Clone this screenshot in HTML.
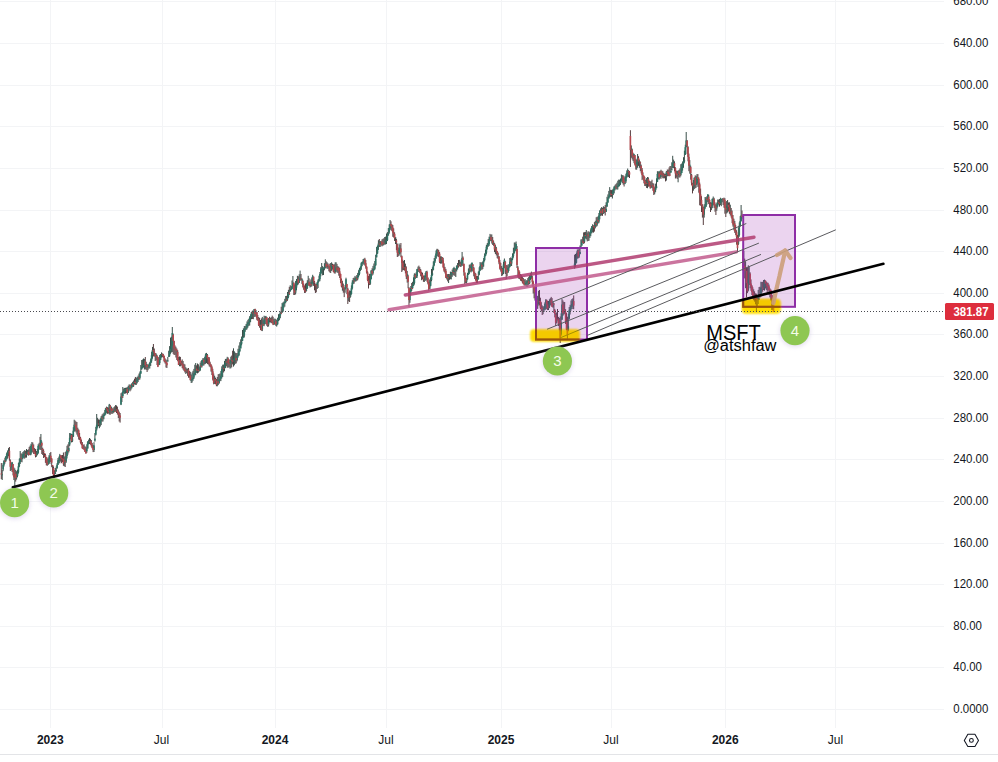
<!DOCTYPE html>
<html><head><meta charset="utf-8"><title>MSFT</title>
<style>html,body{margin:0;padding:0;background:#fff;width:998px;height:762px;overflow:hidden;font-family:"Liberation Sans",sans-serif;}</style>
</head><body>
<svg width="998" height="762" viewBox="0 0 998 762" style="position:absolute;left:0;top:0"><defs><filter id="blur1" x="-20%" y="-50%" width="140%" height="200%"><feGaussianBlur stdDeviation="1.3"/></filter><filter id="blur06" x="-50%" y="-50%" width="200%" height="200%"><feGaussianBlur stdDeviation="0.6"/></filter><filter id="shadow" x="-50%" y="-50%" width="200%" height="200%"><feGaussianBlur stdDeviation="2"/></filter><clipPath id="pane"><rect x="0" y="0" width="944" height="728"/></clipPath></defs><g fill="#f3f4f6" shape-rendering="crispEdges"><rect x="0" y="709" width="944" height="1"/><rect x="0" y="667" width="944" height="1"/><rect x="0" y="626" width="944" height="1"/><rect x="0" y="584" width="944" height="1"/><rect x="0" y="543" width="944" height="1"/><rect x="0" y="501" width="944" height="1"/><rect x="0" y="459" width="944" height="1"/><rect x="0" y="418" width="944" height="1"/><rect x="0" y="376" width="944" height="1"/><rect x="0" y="334" width="944" height="1"/><rect x="0" y="293" width="944" height="1"/><rect x="0" y="251" width="944" height="1"/><rect x="0" y="210" width="944" height="1"/><rect x="0" y="168" width="944" height="1"/><rect x="0" y="126" width="944" height="1"/><rect x="0" y="85" width="944" height="1"/><rect x="0" y="43" width="944" height="1"/><rect x="0" y="1" width="944" height="1"/><rect x="50" y="0" width="1" height="728"/><rect x="162" y="0" width="1" height="728"/><rect x="275" y="0" width="1" height="728"/><rect x="386" y="0" width="1" height="728"/><rect x="501" y="0" width="1" height="728"/><rect x="611" y="0" width="1" height="728"/><rect x="725" y="0" width="1" height="728"/><rect x="835" y="0" width="1" height="728"/></g><g clip-path="url(#pane)"><g fill="#3a4f4a"><rect x="1.70" y="470.0" width="1" height="10.0"/><rect x="2.60" y="463.0" width="1" height="8.2"/><rect x="3.50" y="460.5" width="1" height="6.0"/><rect x="5.30" y="456.0" width="1" height="6.0"/><rect x="6.20" y="452.6" width="1" height="7.0"/><rect x="7.10" y="450.4" width="1" height="8.3"/><rect x="8.00" y="448.1" width="1" height="8.2"/><rect x="10.70" y="462.6" width="1" height="7.7"/><rect x="11.60" y="461.9" width="1" height="10.1"/><rect x="14.30" y="468.4" width="1" height="18.6"/><rect x="16.10" y="471.2" width="1" height="8.4"/><rect x="17.00" y="469.7" width="1" height="7.3"/><rect x="17.90" y="462.9" width="1" height="10.7"/><rect x="18.80" y="458.7" width="1" height="8.5"/><rect x="19.70" y="451.0" width="1" height="13.0"/><rect x="21.50" y="453.6" width="1" height="8.7"/><rect x="22.40" y="452.0" width="1" height="7.1"/><rect x="23.30" y="451.1" width="1" height="6.5"/><rect x="24.20" y="450.1" width="1" height="8.6"/><rect x="26.00" y="449.0" width="1" height="8.6"/><rect x="26.90" y="450.0" width="1" height="4.8"/><rect x="29.60" y="445.6" width="1" height="9.7"/><rect x="30.50" y="443.8" width="1" height="11.3"/><rect x="31.40" y="442.0" width="1" height="10.0"/><rect x="35.90" y="451.0" width="1" height="5.8"/><rect x="36.80" y="448.9" width="1" height="6.3"/><rect x="37.70" y="444.2" width="1" height="9.6"/><rect x="38.60" y="442.8" width="1" height="6.7"/><rect x="40.40" y="434.0" width="1" height="16.0"/><rect x="47.60" y="457.3" width="1" height="7.6"/><rect x="48.50" y="455.2" width="1" height="8.0"/><rect x="49.40" y="453.0" width="1" height="11.0"/><rect x="54.80" y="468.0" width="1" height="6.2"/><rect x="55.70" y="466.5" width="1" height="5.3"/><rect x="56.60" y="463.1" width="1" height="5.3"/><rect x="57.50" y="458.0" width="1" height="6.9"/><rect x="58.40" y="456.6" width="1" height="6.3"/><rect x="59.30" y="453.9" width="1" height="9.5"/><rect x="63.80" y="456.4" width="1" height="9.9"/><rect x="65.60" y="451.2" width="1" height="11.7"/><rect x="66.50" y="445.8" width="1" height="12.7"/><rect x="68.30" y="442.1" width="1" height="10.4"/><rect x="69.20" y="433.0" width="1" height="13.1"/><rect x="70.10" y="433.5" width="1" height="5.9"/><rect x="71.90" y="434.2" width="1" height="7.9"/><rect x="72.80" y="427.2" width="1" height="9.9"/><rect x="73.70" y="419.7" width="1" height="12.1"/><rect x="77.30" y="427.7" width="1" height="8.9"/><rect x="86.30" y="444.3" width="1" height="8.5"/><rect x="87.20" y="441.1" width="1" height="7.5"/><rect x="88.10" y="439.6" width="1" height="4.8"/><rect x="89.00" y="438.0" width="1" height="6.0"/><rect x="93.50" y="442.2" width="1" height="9.8"/><rect x="94.40" y="433.0" width="1" height="8.7"/><rect x="95.30" y="426.8" width="1" height="8.7"/><rect x="96.20" y="414.0" width="1" height="16.6"/><rect x="97.10" y="417.8" width="1" height="9.9"/><rect x="98.90" y="419.7" width="1" height="8.5"/><rect x="99.80" y="418.5" width="1" height="8.1"/><rect x="100.70" y="416.0" width="1" height="9.1"/><rect x="102.50" y="413.6" width="1" height="7.9"/><rect x="103.40" y="412.6" width="1" height="6.7"/><rect x="104.30" y="409.9" width="1" height="6.1"/><rect x="105.20" y="407.9" width="1" height="6.7"/><rect x="108.80" y="403.9" width="1" height="10.6"/><rect x="110.60" y="406.4" width="1" height="7.2"/><rect x="112.40" y="409.1" width="1" height="4.4"/><rect x="113.30" y="407.3" width="1" height="5.6"/><rect x="115.10" y="405.0" width="1" height="6.5"/><rect x="120.50" y="393.2" width="1" height="11.9"/><rect x="122.30" y="387.0" width="1" height="11.0"/><rect x="123.20" y="388.5" width="1" height="4.8"/><rect x="124.10" y="387.9" width="1" height="5.9"/><rect x="125.00" y="387.8" width="1" height="5.7"/><rect x="125.90" y="387.6" width="1" height="5.4"/><rect x="127.70" y="385.7" width="1" height="7.3"/><rect x="128.60" y="384.4" width="1" height="6.1"/><rect x="130.40" y="384.6" width="1" height="5.7"/><rect x="131.30" y="383.1" width="1" height="5.4"/><rect x="133.10" y="380.5" width="1" height="6.4"/><rect x="135.80" y="377.7" width="1" height="7.2"/><rect x="136.70" y="376.9" width="1" height="6.5"/><rect x="137.60" y="375.6" width="1" height="6.4"/><rect x="139.40" y="371.5" width="1" height="8.0"/><rect x="140.30" y="365.0" width="1" height="9.0"/><rect x="141.20" y="360.0" width="1" height="9.8"/><rect x="142.10" y="359.5" width="1" height="8.6"/><rect x="143.00" y="358.5" width="1" height="9.0"/><rect x="143.90" y="358.9" width="1" height="10.6"/><rect x="145.70" y="361.8" width="1" height="8.1"/><rect x="147.50" y="365.0" width="1" height="5.2"/><rect x="148.40" y="363.7" width="1" height="4.9"/><rect x="149.30" y="361.9" width="1" height="6.6"/><rect x="150.20" y="358.5" width="1" height="7.5"/><rect x="151.10" y="351.7" width="1" height="10.9"/><rect x="152.00" y="346.9" width="1" height="11.8"/><rect x="155.60" y="353.3" width="1" height="7.0"/><rect x="158.30" y="357.2" width="1" height="8.0"/><rect x="159.20" y="354.9" width="1" height="10.0"/><rect x="160.10" y="354.0" width="1" height="6.1"/><rect x="161.00" y="352.4" width="1" height="5.2"/><rect x="167.30" y="357.0" width="1" height="4.3"/><rect x="168.20" y="350.7" width="1" height="6.0"/><rect x="169.10" y="346.1" width="1" height="10.7"/><rect x="170.00" y="337.6" width="1" height="16.2"/><rect x="170.90" y="336.7" width="1" height="15.8"/><rect x="171.80" y="327.0" width="1" height="25.0"/><rect x="179.00" y="356.5" width="1" height="9.7"/><rect x="185.30" y="367.2" width="1" height="6.8"/><rect x="187.10" y="368.6" width="1" height="7.2"/><rect x="190.70" y="374.4" width="1" height="8.6"/><rect x="191.60" y="372.4" width="1" height="10.2"/><rect x="192.50" y="370.8" width="1" height="10.0"/><rect x="193.40" y="368.9" width="1" height="10.0"/><rect x="194.30" y="364.7" width="1" height="10.7"/><rect x="195.20" y="363.0" width="1" height="12.2"/><rect x="197.00" y="363.5" width="1" height="9.9"/><rect x="198.80" y="367.1" width="1" height="3.9"/><rect x="199.70" y="362.6" width="1" height="8.3"/><rect x="201.50" y="359.9" width="1" height="7.5"/><rect x="202.40" y="358.1" width="1" height="7.1"/><rect x="204.20" y="356.7" width="1" height="7.7"/><rect x="205.10" y="353.4" width="1" height="10.4"/><rect x="206.00" y="352.9" width="1" height="10.1"/><rect x="214.10" y="375.7" width="1" height="8.2"/><rect x="216.80" y="377.0" width="1" height="9.3"/><rect x="218.60" y="374.0" width="1" height="9.7"/><rect x="219.50" y="373.4" width="1" height="7.7"/><rect x="220.40" y="370.9" width="1" height="10.2"/><rect x="221.30" y="366.3" width="1" height="12.1"/><rect x="222.20" y="364.7" width="1" height="12.3"/><rect x="224.00" y="360.9" width="1" height="10.3"/><rect x="224.90" y="358.9" width="1" height="9.1"/><rect x="226.70" y="356.8" width="1" height="10.8"/><rect x="229.40" y="359.6" width="1" height="8.9"/><rect x="230.30" y="356.7" width="1" height="11.6"/><rect x="233.00" y="348.3" width="1" height="18.3"/><rect x="233.90" y="351.3" width="1" height="14.0"/><rect x="234.80" y="352.7" width="1" height="11.1"/><rect x="236.60" y="353.0" width="1" height="8.3"/><rect x="237.50" y="348.8" width="1" height="8.9"/><rect x="238.40" y="345.5" width="1" height="10.6"/><rect x="239.30" y="342.2" width="1" height="9.9"/><rect x="240.20" y="339.3" width="1" height="9.1"/><rect x="241.10" y="336.5" width="1" height="8.8"/><rect x="242.00" y="330.0" width="1" height="11.1"/><rect x="242.90" y="328.3" width="1" height="9.0"/><rect x="243.80" y="326.0" width="1" height="11.4"/><rect x="244.70" y="325.9" width="1" height="5.9"/><rect x="245.60" y="323.9" width="1" height="6.1"/><rect x="246.50" y="321.4" width="1" height="8.0"/><rect x="247.40" y="319.8" width="1" height="7.8"/><rect x="248.30" y="318.8" width="1" height="7.2"/><rect x="249.20" y="316.1" width="1" height="9.4"/><rect x="250.10" y="314.2" width="1" height="7.9"/><rect x="251.00" y="311.8" width="1" height="7.4"/><rect x="252.80" y="310.7" width="1" height="8.5"/><rect x="253.70" y="309.0" width="1" height="8.0"/><rect x="255.50" y="309.9" width="1" height="7.0"/><rect x="260.00" y="320.0" width="1" height="10.0"/><rect x="261.80" y="316.9" width="1" height="14.2"/><rect x="263.60" y="315.7" width="1" height="10.5"/><rect x="265.40" y="315.9" width="1" height="8.3"/><rect x="268.10" y="318.0" width="1" height="8.5"/><rect x="270.80" y="317.2" width="1" height="6.0"/><rect x="273.50" y="318.8" width="1" height="5.8"/><rect x="274.40" y="318.5" width="1" height="6.0"/><rect x="276.20" y="320.0" width="1" height="6.6"/><rect x="277.10" y="317.7" width="1" height="7.0"/><rect x="278.00" y="314.2" width="1" height="6.9"/><rect x="278.90" y="313.8" width="1" height="6.5"/><rect x="279.80" y="311.6" width="1" height="6.6"/><rect x="281.60" y="303.0" width="1" height="9.7"/><rect x="282.50" y="302.3" width="1" height="9.7"/><rect x="283.40" y="301.5" width="1" height="6.1"/><rect x="284.30" y="298.8" width="1" height="7.9"/><rect x="285.20" y="296.0" width="1" height="7.3"/><rect x="287.00" y="292.0" width="1" height="8.8"/><rect x="287.90" y="289.8" width="1" height="8.3"/><rect x="289.70" y="285.2" width="1" height="6.4"/><rect x="290.60" y="286.0" width="1" height="4.1"/><rect x="291.50" y="280.5" width="1" height="8.8"/><rect x="292.40" y="276.0" width="1" height="11.6"/><rect x="295.10" y="280.9" width="1" height="13.5"/><rect x="296.00" y="279.0" width="1" height="11.3"/><rect x="296.90" y="275.8" width="1" height="9.5"/><rect x="298.70" y="274.3" width="1" height="8.7"/><rect x="299.60" y="270.6" width="1" height="10.2"/><rect x="301.40" y="278.3" width="1" height="5.6"/><rect x="305.90" y="282.8" width="1" height="8.6"/><rect x="306.80" y="280.2" width="1" height="8.8"/><rect x="307.70" y="275.8" width="1" height="9.6"/><rect x="309.50" y="281.6" width="1" height="5.9"/><rect x="311.30" y="277.4" width="1" height="9.0"/><rect x="312.20" y="274.8" width="1" height="8.9"/><rect x="316.70" y="282.0" width="1" height="7.0"/><rect x="317.60" y="279.3" width="1" height="8.7"/><rect x="318.50" y="275.7" width="1" height="6.0"/><rect x="319.40" y="272.0" width="1" height="9.2"/><rect x="320.30" y="267.1" width="1" height="9.2"/><rect x="321.20" y="263.0" width="1" height="10.0"/><rect x="322.10" y="266.1" width="1" height="9.2"/><rect x="323.00" y="267.3" width="1" height="7.7"/><rect x="323.90" y="263.2" width="1" height="7.1"/><rect x="324.80" y="259.3" width="1" height="9.2"/><rect x="326.60" y="262.3" width="1" height="6.6"/><rect x="330.20" y="263.0" width="1" height="10.0"/><rect x="331.10" y="262.3" width="1" height="8.6"/><rect x="334.70" y="262.3" width="1" height="11.3"/><rect x="335.60" y="262.3" width="1" height="9.4"/><rect x="337.40" y="266.0" width="1" height="6.9"/><rect x="341.90" y="281.0" width="1" height="9.7"/><rect x="344.60" y="285.0" width="1" height="7.7"/><rect x="345.50" y="277.7" width="1" height="10.8"/><rect x="348.20" y="292.3" width="1" height="9.0"/><rect x="350.00" y="290.8" width="1" height="6.8"/><rect x="350.90" y="285.4" width="1" height="9.3"/><rect x="351.80" y="280.3" width="1" height="9.2"/><rect x="352.70" y="278.0" width="1" height="6.1"/><rect x="354.50" y="275.9" width="1" height="5.5"/><rect x="355.40" y="276.7" width="1" height="4.8"/><rect x="357.20" y="272.9" width="1" height="7.3"/><rect x="358.10" y="270.2" width="1" height="7.0"/><rect x="359.00" y="268.0" width="1" height="7.0"/><rect x="359.90" y="266.3" width="1" height="4.7"/><rect x="360.80" y="262.3" width="1" height="7.5"/><rect x="361.70" y="261.6" width="1" height="4.5"/><rect x="362.60" y="259.0" width="1" height="5.3"/><rect x="363.50" y="258.6" width="1" height="6.2"/><rect x="369.80" y="274.0" width="1" height="10.8"/><rect x="370.70" y="270.2" width="1" height="9.2"/><rect x="372.50" y="265.9" width="1" height="8.8"/><rect x="373.40" y="263.5" width="1" height="7.4"/><rect x="374.30" y="261.0" width="1" height="8.9"/><rect x="375.20" y="254.9" width="1" height="11.1"/><rect x="376.10" y="247.0" width="1" height="10.5"/><rect x="377.00" y="245.5" width="1" height="8.3"/><rect x="377.90" y="240.2" width="1" height="9.7"/><rect x="379.70" y="241.1" width="1" height="5.9"/><rect x="382.40" y="238.8" width="1" height="7.0"/><rect x="384.20" y="237.0" width="1" height="7.6"/><rect x="385.10" y="236.6" width="1" height="7.9"/><rect x="386.00" y="233.5" width="1" height="10.5"/><rect x="386.90" y="232.1" width="1" height="8.9"/><rect x="387.80" y="228.0" width="1" height="7.6"/><rect x="388.70" y="224.4" width="1" height="9.3"/><rect x="389.60" y="220.0" width="1" height="9.7"/><rect x="395.00" y="237.2" width="1" height="6.8"/><rect x="398.60" y="243.5" width="1" height="12.2"/><rect x="399.50" y="244.9" width="1" height="8.8"/><rect x="404.00" y="260.0" width="1" height="10.5"/><rect x="406.70" y="270.9" width="1" height="11.7"/><rect x="409.40" y="289.4" width="1" height="13.4"/><rect x="410.30" y="286.0" width="1" height="8.6"/><rect x="412.10" y="281.8" width="1" height="7.3"/><rect x="413.00" y="277.3" width="1" height="8.7"/><rect x="413.90" y="273.3" width="1" height="11.3"/><rect x="415.70" y="272.2" width="1" height="5.8"/><rect x="416.60" y="268.9" width="1" height="9.0"/><rect x="417.50" y="266.6" width="1" height="5.4"/><rect x="423.80" y="275.5" width="1" height="6.5"/><rect x="424.70" y="273.0" width="1" height="7.9"/><rect x="425.60" y="271.0" width="1" height="9.2"/><rect x="429.20" y="279.4" width="1" height="9.5"/><rect x="430.10" y="277.3" width="1" height="9.2"/><rect x="431.00" y="269.0" width="1" height="12.4"/><rect x="431.90" y="267.2" width="1" height="8.6"/><rect x="432.80" y="261.4" width="1" height="9.0"/><rect x="433.70" y="258.0" width="1" height="8.2"/><rect x="434.60" y="255.6" width="1" height="7.2"/><rect x="435.50" y="250.5" width="1" height="8.4"/><rect x="436.40" y="248.8" width="1" height="7.3"/><rect x="440.00" y="256.3" width="1" height="7.3"/><rect x="440.90" y="256.4" width="1" height="7.2"/><rect x="446.30" y="274.1" width="1" height="5.4"/><rect x="448.10" y="274.0" width="1" height="9.0"/><rect x="449.90" y="271.6" width="1" height="7.6"/><rect x="450.80" y="272.0" width="1" height="7.4"/><rect x="451.70" y="269.5" width="1" height="7.3"/><rect x="453.50" y="266.8" width="1" height="8.7"/><rect x="455.30" y="268.3" width="1" height="8.7"/><rect x="456.20" y="265.3" width="1" height="6.2"/><rect x="457.10" y="263.0" width="1" height="6.5"/><rect x="458.90" y="259.9" width="1" height="6.3"/><rect x="460.70" y="259.5" width="1" height="7.2"/><rect x="461.60" y="252.0" width="1" height="13.7"/><rect x="466.10" y="278.0" width="1" height="5.4"/><rect x="467.00" y="272.8" width="1" height="6.9"/><rect x="467.90" y="268.7" width="1" height="6.2"/><rect x="468.80" y="264.7" width="1" height="9.2"/><rect x="470.60" y="263.5" width="1" height="8.9"/><rect x="471.50" y="262.6" width="1" height="8.7"/><rect x="476.90" y="276.0" width="1" height="7.0"/><rect x="477.80" y="271.6" width="1" height="7.9"/><rect x="478.70" y="267.3" width="1" height="8.0"/><rect x="479.60" y="262.0" width="1" height="9.1"/><rect x="480.50" y="262.8" width="1" height="6.5"/><rect x="482.30" y="261.4" width="1" height="7.6"/><rect x="483.20" y="258.0" width="1" height="8.6"/><rect x="484.10" y="253.5" width="1" height="7.7"/><rect x="485.00" y="249.6" width="1" height="6.7"/><rect x="485.90" y="244.8" width="1" height="9.6"/><rect x="486.80" y="243.0" width="1" height="6.5"/><rect x="487.70" y="239.0" width="1" height="7.8"/><rect x="488.60" y="236.7" width="1" height="9.2"/><rect x="489.50" y="233.9" width="1" height="7.4"/><rect x="491.30" y="234.4" width="1" height="9.2"/><rect x="493.10" y="240.6" width="1" height="5.3"/><rect x="494.90" y="244.7" width="1" height="9.3"/><rect x="502.10" y="267.8" width="1" height="7.6"/><rect x="503.00" y="261.8" width="1" height="12.3"/><rect x="503.90" y="258.5" width="1" height="9.5"/><rect x="507.50" y="264.5" width="1" height="8.1"/><rect x="508.40" y="264.1" width="1" height="6.9"/><rect x="509.30" y="258.0" width="1" height="9.3"/><rect x="511.10" y="258.2" width="1" height="7.8"/><rect x="512.00" y="253.4" width="1" height="6.8"/><rect x="512.90" y="247.7" width="1" height="10.0"/><rect x="513.80" y="242.5" width="1" height="11.2"/><rect x="514.70" y="242.5" width="1" height="8.8"/><rect x="515.60" y="241.5" width="1" height="9.5"/><rect x="524.60" y="279.0" width="1" height="6.5"/><rect x="525.50" y="280.6" width="1" height="5.8"/><rect x="526.40" y="280.0" width="1" height="7.0"/><rect x="527.30" y="278.1" width="1" height="8.9"/><rect x="529.10" y="275.0" width="1" height="9.1"/><rect x="530.00" y="273.3" width="1" height="6.6"/><rect x="530.90" y="271.6" width="1" height="7.2"/><rect x="537.20" y="295.9" width="1" height="12.9"/><rect x="538.10" y="290.8" width="1" height="13.8"/><rect x="542.60" y="306.6" width="1" height="7.6"/><rect x="543.50" y="306.0" width="1" height="6.0"/><rect x="544.40" y="302.3" width="1" height="7.9"/><rect x="545.30" y="299.1" width="1" height="10.6"/><rect x="548.00" y="301.0" width="1" height="9.0"/><rect x="548.90" y="299.3" width="1" height="8.7"/><rect x="549.80" y="298.2" width="1" height="7.1"/><rect x="552.50" y="301.4" width="1" height="6.4"/><rect x="556.10" y="312.4" width="1" height="11.0"/><rect x="558.80" y="318.0" width="1" height="12.3"/><rect x="560.60" y="313.3" width="1" height="22.4"/><rect x="561.50" y="299.0" width="1" height="21.0"/><rect x="563.30" y="301.9" width="1" height="12.9"/><rect x="567.80" y="313.8" width="1" height="17.4"/><rect x="568.70" y="307.0" width="1" height="12.5"/><rect x="569.60" y="304.8" width="1" height="9.7"/><rect x="570.50" y="300.5" width="1" height="10.2"/><rect x="571.40" y="299.0" width="1" height="8.0"/><rect x="572.30" y="298.3" width="1" height="10.8"/><rect x="574.10" y="254.7" width="1" height="13.9"/><rect x="575.00" y="254.0" width="1" height="12.9"/><rect x="575.90" y="252.7" width="1" height="10.6"/><rect x="576.80" y="249.5" width="1" height="9.2"/><rect x="578.60" y="247.1" width="1" height="10.8"/><rect x="579.50" y="245.5" width="1" height="8.7"/><rect x="580.40" y="239.4" width="1" height="9.0"/><rect x="581.30" y="239.2" width="1" height="6.5"/><rect x="584.00" y="232.2" width="1" height="11.0"/><rect x="585.80" y="230.0" width="1" height="9.4"/><rect x="586.70" y="232.4" width="1" height="9.0"/><rect x="588.50" y="231.9" width="1" height="8.9"/><rect x="589.40" y="231.6" width="1" height="6.4"/><rect x="590.30" y="228.4" width="1" height="7.8"/><rect x="591.20" y="226.0" width="1" height="7.4"/><rect x="592.10" y="224.3" width="1" height="8.1"/><rect x="594.80" y="220.8" width="1" height="7.6"/><rect x="596.60" y="216.8" width="1" height="9.4"/><rect x="598.40" y="213.0" width="1" height="10.2"/><rect x="599.30" y="210.3" width="1" height="9.0"/><rect x="601.10" y="207.1" width="1" height="8.4"/><rect x="602.90" y="206.3" width="1" height="7.6"/><rect x="605.60" y="202.3" width="1" height="9.7"/><rect x="606.50" y="196.8" width="1" height="10.1"/><rect x="607.40" y="194.4" width="1" height="8.4"/><rect x="608.30" y="190.9" width="1" height="7.8"/><rect x="609.20" y="187.1" width="1" height="10.2"/><rect x="611.90" y="189.5" width="1" height="9.0"/><rect x="612.80" y="188.5" width="1" height="6.6"/><rect x="613.70" y="186.1" width="1" height="7.3"/><rect x="614.60" y="184.8" width="1" height="5.5"/><rect x="616.40" y="182.7" width="1" height="6.9"/><rect x="617.30" y="180.7" width="1" height="8.8"/><rect x="618.20" y="179.6" width="1" height="7.1"/><rect x="619.10" y="179.7" width="1" height="6.5"/><rect x="620.00" y="178.5" width="1" height="6.4"/><rect x="620.90" y="174.5" width="1" height="7.2"/><rect x="621.80" y="175.1" width="1" height="8.1"/><rect x="624.50" y="175.8" width="1" height="7.5"/><rect x="625.40" y="173.7" width="1" height="9.3"/><rect x="626.30" y="170.4" width="1" height="7.5"/><rect x="627.20" y="168.5" width="1" height="8.1"/><rect x="630.80" y="145.4" width="1" height="12.4"/><rect x="633.50" y="153.8" width="1" height="9.3"/><rect x="636.20" y="159.5" width="1" height="10.2"/><rect x="637.10" y="154.0" width="1" height="13.8"/><rect x="638.90" y="159.5" width="1" height="8.3"/><rect x="645.20" y="179.7" width="1" height="6.4"/><rect x="647.00" y="177.0" width="1" height="11.2"/><rect x="650.60" y="181.2" width="1" height="6.5"/><rect x="654.20" y="187.3" width="1" height="7.0"/><rect x="655.10" y="183.6" width="1" height="8.5"/><rect x="656.00" y="178.3" width="1" height="10.0"/><rect x="656.90" y="171.2" width="1" height="10.9"/><rect x="657.80" y="171.3" width="1" height="8.0"/><rect x="659.60" y="170.7" width="1" height="7.7"/><rect x="661.40" y="170.7" width="1" height="6.2"/><rect x="664.10" y="173.7" width="1" height="4.6"/><rect x="665.90" y="171.0" width="1" height="9.6"/><rect x="670.40" y="166.0" width="1" height="6.8"/><rect x="671.30" y="162.3" width="1" height="7.7"/><rect x="672.20" y="155.8" width="1" height="12.4"/><rect x="673.10" y="159.6" width="1" height="8.5"/><rect x="677.60" y="170.5" width="1" height="11.8"/><rect x="680.30" y="164.2" width="1" height="12.1"/><rect x="681.20" y="163.5" width="1" height="9.7"/><rect x="682.10" y="161.5" width="1" height="9.1"/><rect x="683.00" y="157.2" width="1" height="10.6"/><rect x="683.90" y="150.7" width="1" height="12.1"/><rect x="684.80" y="144.7" width="1" height="10.2"/><rect x="685.70" y="132.0" width="1" height="15.2"/><rect x="689.30" y="160.1" width="1" height="13.6"/><rect x="692.90" y="180.0" width="1" height="10.7"/><rect x="693.80" y="177.3" width="1" height="11.8"/><rect x="695.60" y="175.8" width="1" height="11.9"/><rect x="696.50" y="174.1" width="1" height="10.5"/><rect x="703.70" y="204.2" width="1" height="13.4"/><rect x="704.60" y="197.0" width="1" height="12.2"/><rect x="705.50" y="197.2" width="1" height="9.8"/><rect x="707.30" y="194.2" width="1" height="7.9"/><rect x="710.90" y="202.5" width="1" height="7.6"/><rect x="711.80" y="198.4" width="1" height="9.8"/><rect x="712.70" y="196.5" width="1" height="8.8"/><rect x="716.30" y="202.6" width="1" height="8.2"/><rect x="717.20" y="199.5" width="1" height="7.4"/><rect x="719.90" y="197.7" width="1" height="7.4"/><rect x="720.80" y="199.0" width="1" height="7.2"/><rect x="721.70" y="198.4" width="1" height="3.9"/><rect x="726.20" y="201.0" width="1" height="12.5"/><rect x="727.10" y="200.0" width="1" height="12.5"/><rect x="729.80" y="204.7" width="1" height="10.8"/><rect x="733.40" y="218.7" width="1" height="11.6"/><rect x="737.90" y="227.4" width="1" height="17.5"/><rect x="738.80" y="222.4" width="1" height="14.3"/><rect x="739.70" y="216.1" width="1" height="10.6"/><rect x="740.60" y="205.0" width="1" height="16.6"/><rect x="743.30" y="251.0" width="1" height="20.0"/><rect x="745.10" y="261.2" width="1" height="27.0"/><rect x="747.80" y="265.3" width="1" height="26.1"/><rect x="748.70" y="267.0" width="1" height="18.0"/><rect x="757.70" y="289.9" width="1" height="14.1"/><rect x="758.60" y="287.0" width="1" height="13.0"/><rect x="760.40" y="281.7" width="1" height="15.1"/><rect x="761.30" y="282.0" width="1" height="11.6"/><rect x="763.10" y="280.0" width="1" height="10.0"/><rect x="764.00" y="279.6" width="1" height="11.0"/><rect x="765.80" y="281.5" width="1" height="8.5"/><rect x="769.40" y="288.2" width="1" height="9.2"/></g><g fill="#573e40"><rect x="0.80" y="463.0" width="1" height="16.1"/><rect x="4.40" y="457.7" width="1" height="6.0"/><rect x="8.90" y="447.0" width="1" height="13.8"/><rect x="9.80" y="459.4" width="1" height="11.6"/><rect x="12.50" y="463.9" width="1" height="11.5"/><rect x="13.40" y="467.5" width="1" height="12.5"/><rect x="15.20" y="470.0" width="1" height="11.6"/><rect x="20.60" y="453.4" width="1" height="8.5"/><rect x="25.10" y="450.8" width="1" height="6.9"/><rect x="27.80" y="449.3" width="1" height="6.4"/><rect x="28.70" y="446.9" width="1" height="7.9"/><rect x="32.30" y="442.5" width="1" height="10.1"/><rect x="33.20" y="444.4" width="1" height="9.6"/><rect x="34.10" y="448.1" width="1" height="5.7"/><rect x="35.00" y="449.1" width="1" height="8.3"/><rect x="39.50" y="436.9" width="1" height="12.9"/><rect x="41.30" y="441.5" width="1" height="12.5"/><rect x="42.20" y="447.7" width="1" height="7.3"/><rect x="43.10" y="449.4" width="1" height="8.6"/><rect x="44.00" y="452.8" width="1" height="4.4"/><rect x="44.90" y="453.8" width="1" height="9.0"/><rect x="45.80" y="456.9" width="1" height="8.4"/><rect x="46.70" y="458.5" width="1" height="7.4"/><rect x="50.30" y="452.0" width="1" height="10.0"/><rect x="51.20" y="458.1" width="1" height="9.1"/><rect x="52.10" y="465.0" width="1" height="9.0"/><rect x="53.00" y="466.4" width="1" height="10.5"/><rect x="53.90" y="470.2" width="1" height="7.4"/><rect x="60.20" y="455.2" width="1" height="6.4"/><rect x="61.10" y="455.2" width="1" height="8.0"/><rect x="62.00" y="455.0" width="1" height="7.0"/><rect x="62.90" y="452.5" width="1" height="13.3"/><rect x="64.70" y="452.0" width="1" height="15.0"/><rect x="67.40" y="444.4" width="1" height="10.2"/><rect x="71.00" y="433.9" width="1" height="8.5"/><rect x="74.60" y="420.6" width="1" height="10.6"/><rect x="75.50" y="421.6" width="1" height="10.8"/><rect x="76.40" y="422.0" width="1" height="12.6"/><rect x="78.20" y="429.4" width="1" height="10.2"/><rect x="79.10" y="433.0" width="1" height="7.0"/><rect x="80.00" y="436.9" width="1" height="6.7"/><rect x="80.90" y="439.5" width="1" height="5.7"/><rect x="81.80" y="442.0" width="1" height="6.8"/><rect x="82.70" y="444.8" width="1" height="4.1"/><rect x="83.60" y="444.3" width="1" height="5.9"/><rect x="84.50" y="446.2" width="1" height="5.7"/><rect x="85.40" y="447.0" width="1" height="6.8"/><rect x="89.90" y="438.8" width="1" height="5.9"/><rect x="90.80" y="440.0" width="1" height="6.6"/><rect x="91.70" y="442.9" width="1" height="5.5"/><rect x="92.60" y="445.1" width="1" height="7.0"/><rect x="98.00" y="419.4" width="1" height="6.8"/><rect x="101.60" y="414.5" width="1" height="7.1"/><rect x="106.10" y="406.6" width="1" height="6.3"/><rect x="107.00" y="407.2" width="1" height="6.6"/><rect x="107.90" y="407.5" width="1" height="6.1"/><rect x="109.70" y="404.9" width="1" height="9.9"/><rect x="111.50" y="407.7" width="1" height="6.3"/><rect x="114.20" y="406.3" width="1" height="5.7"/><rect x="116.00" y="405.5" width="1" height="7.5"/><rect x="116.90" y="406.6" width="1" height="8.0"/><rect x="117.80" y="409.5" width="1" height="8.5"/><rect x="118.70" y="411.6" width="1" height="9.9"/><rect x="119.60" y="413.0" width="1" height="9.6"/><rect x="121.40" y="392.4" width="1" height="9.6"/><rect x="126.80" y="387.1" width="1" height="7.5"/><rect x="129.50" y="384.6" width="1" height="6.8"/><rect x="132.20" y="381.9" width="1" height="4.9"/><rect x="134.00" y="378.7" width="1" height="5.6"/><rect x="134.90" y="377.0" width="1" height="7.8"/><rect x="138.50" y="373.6" width="1" height="6.5"/><rect x="144.80" y="357.0" width="1" height="12.3"/><rect x="146.60" y="363.9" width="1" height="8.1"/><rect x="152.90" y="344.0" width="1" height="12.4"/><rect x="153.80" y="348.5" width="1" height="8.1"/><rect x="154.70" y="353.0" width="1" height="8.0"/><rect x="156.50" y="354.8" width="1" height="10.2"/><rect x="157.40" y="356.8" width="1" height="10.3"/><rect x="161.90" y="353.4" width="1" height="3.7"/><rect x="162.80" y="353.8" width="1" height="4.1"/><rect x="163.70" y="355.6" width="1" height="6.6"/><rect x="164.60" y="358.3" width="1" height="5.3"/><rect x="165.50" y="359.4" width="1" height="8.1"/><rect x="166.40" y="360.2" width="1" height="7.8"/><rect x="172.70" y="333.6" width="1" height="20.3"/><rect x="173.60" y="340.7" width="1" height="14.3"/><rect x="174.50" y="345.4" width="1" height="9.5"/><rect x="175.40" y="346.7" width="1" height="10.8"/><rect x="176.30" y="348.4" width="1" height="11.6"/><rect x="177.20" y="350.2" width="1" height="11.1"/><rect x="178.10" y="357.0" width="1" height="8.0"/><rect x="179.90" y="356.9" width="1" height="9.4"/><rect x="180.80" y="360.8" width="1" height="4.8"/><rect x="181.70" y="359.4" width="1" height="8.8"/><rect x="182.60" y="361.0" width="1" height="8.6"/><rect x="183.50" y="363.8" width="1" height="7.1"/><rect x="184.40" y="364.4" width="1" height="8.1"/><rect x="186.20" y="368.4" width="1" height="4.7"/><rect x="188.00" y="368.0" width="1" height="9.7"/><rect x="188.90" y="371.0" width="1" height="6.7"/><rect x="189.80" y="371.8" width="1" height="8.8"/><rect x="196.10" y="365.3" width="1" height="7.6"/><rect x="197.90" y="364.3" width="1" height="8.4"/><rect x="200.60" y="361.0" width="1" height="6.6"/><rect x="203.30" y="358.2" width="1" height="7.5"/><rect x="206.90" y="354.0" width="1" height="10.0"/><rect x="207.80" y="357.1" width="1" height="7.5"/><rect x="208.70" y="357.1" width="1" height="9.3"/><rect x="209.60" y="361.7" width="1" height="5.5"/><rect x="210.50" y="364.1" width="1" height="7.5"/><rect x="211.40" y="365.7" width="1" height="9.4"/><rect x="212.30" y="368.8" width="1" height="11.7"/><rect x="213.20" y="373.5" width="1" height="10.8"/><rect x="215.00" y="377.6" width="1" height="6.5"/><rect x="215.90" y="378.9" width="1" height="7.3"/><rect x="217.70" y="374.2" width="1" height="10.9"/><rect x="223.10" y="364.7" width="1" height="7.8"/><rect x="225.80" y="359.1" width="1" height="7.1"/><rect x="227.60" y="357.4" width="1" height="10.4"/><rect x="228.50" y="359.3" width="1" height="7.7"/><rect x="231.20" y="355.6" width="1" height="11.7"/><rect x="232.10" y="350.7" width="1" height="13.7"/><rect x="235.70" y="353.1" width="1" height="10.3"/><rect x="251.90" y="310.6" width="1" height="8.4"/><rect x="254.60" y="308.7" width="1" height="7.8"/><rect x="256.40" y="312.0" width="1" height="8.2"/><rect x="257.30" y="315.0" width="1" height="5.9"/><rect x="258.20" y="317.0" width="1" height="9.0"/><rect x="259.10" y="317.9" width="1" height="9.8"/><rect x="260.90" y="318.4" width="1" height="12.3"/><rect x="262.70" y="320.2" width="1" height="5.6"/><rect x="264.50" y="316.2" width="1" height="7.9"/><rect x="266.30" y="317.1" width="1" height="8.7"/><rect x="267.20" y="319.0" width="1" height="7.9"/><rect x="269.00" y="316.7" width="1" height="5.7"/><rect x="269.90" y="317.8" width="1" height="4.7"/><rect x="271.70" y="315.6" width="1" height="7.6"/><rect x="272.60" y="316.8" width="1" height="8.3"/><rect x="275.30" y="319.0" width="1" height="6.8"/><rect x="280.70" y="306.7" width="1" height="7.5"/><rect x="286.10" y="295.8" width="1" height="5.7"/><rect x="288.80" y="286.8" width="1" height="8.1"/><rect x="293.30" y="282.5" width="1" height="12.5"/><rect x="294.20" y="284.4" width="1" height="10.6"/><rect x="297.80" y="276.2" width="1" height="8.3"/><rect x="300.50" y="274.0" width="1" height="6.5"/><rect x="302.30" y="279.8" width="1" height="7.6"/><rect x="303.20" y="283.5" width="1" height="6.3"/><rect x="304.10" y="285.7" width="1" height="7.3"/><rect x="305.00" y="283.6" width="1" height="9.1"/><rect x="308.60" y="278.3" width="1" height="7.6"/><rect x="310.40" y="279.4" width="1" height="7.6"/><rect x="313.10" y="276.7" width="1" height="9.2"/><rect x="314.00" y="281.0" width="1" height="9.3"/><rect x="314.90" y="283.5" width="1" height="9.5"/><rect x="315.80" y="284.0" width="1" height="8.3"/><rect x="325.70" y="261.3" width="1" height="6.5"/><rect x="327.50" y="263.4" width="1" height="5.3"/><rect x="328.40" y="265.9" width="1" height="5.4"/><rect x="329.30" y="263.7" width="1" height="8.7"/><rect x="332.00" y="263.7" width="1" height="5.8"/><rect x="332.90" y="264.4" width="1" height="7.8"/><rect x="333.80" y="264.2" width="1" height="9.2"/><rect x="336.50" y="263.9" width="1" height="8.6"/><rect x="338.30" y="266.8" width="1" height="8.9"/><rect x="339.20" y="268.0" width="1" height="10.0"/><rect x="340.10" y="273.6" width="1" height="9.6"/><rect x="341.00" y="278.5" width="1" height="8.9"/><rect x="342.80" y="283.6" width="1" height="9.1"/><rect x="343.70" y="287.6" width="1" height="9.5"/><rect x="346.40" y="283.9" width="1" height="10.3"/><rect x="347.30" y="287.7" width="1" height="16.3"/><rect x="349.10" y="290.4" width="1" height="11.6"/><rect x="353.60" y="277.5" width="1" height="6.2"/><rect x="356.30" y="275.0" width="1" height="5.9"/><rect x="364.40" y="257.8" width="1" height="7.9"/><rect x="365.30" y="260.0" width="1" height="8.7"/><rect x="366.20" y="266.2" width="1" height="7.4"/><rect x="367.10" y="271.3" width="1" height="9.8"/><rect x="368.00" y="276.0" width="1" height="12.5"/><rect x="368.90" y="273.8" width="1" height="11.3"/><rect x="371.60" y="268.2" width="1" height="7.5"/><rect x="378.80" y="239.0" width="1" height="8.0"/><rect x="380.60" y="241.2" width="1" height="4.3"/><rect x="381.50" y="239.4" width="1" height="7.0"/><rect x="383.30" y="238.3" width="1" height="6.9"/><rect x="390.50" y="221.3" width="1" height="9.0"/><rect x="391.40" y="224.2" width="1" height="7.0"/><rect x="392.30" y="225.0" width="1" height="11.8"/><rect x="393.20" y="228.4" width="1" height="9.1"/><rect x="394.10" y="232.3" width="1" height="8.7"/><rect x="395.90" y="238.7" width="1" height="11.5"/><rect x="396.80" y="243.5" width="1" height="13.5"/><rect x="397.70" y="247.5" width="1" height="8.9"/><rect x="400.40" y="243.0" width="1" height="14.3"/><rect x="401.30" y="255.5" width="1" height="16.5"/><rect x="402.20" y="259.7" width="1" height="10.8"/><rect x="403.10" y="260.9" width="1" height="9.1"/><rect x="404.90" y="263.6" width="1" height="9.8"/><rect x="405.80" y="266.4" width="1" height="12.6"/><rect x="407.60" y="274.7" width="1" height="13.6"/><rect x="408.50" y="287.1" width="1" height="19.9"/><rect x="411.20" y="283.0" width="1" height="8.0"/><rect x="414.80" y="273.6" width="1" height="5.3"/><rect x="418.40" y="265.6" width="1" height="6.5"/><rect x="419.30" y="267.1" width="1" height="6.0"/><rect x="420.20" y="269.0" width="1" height="7.3"/><rect x="421.10" y="272.0" width="1" height="8.2"/><rect x="422.00" y="272.7" width="1" height="6.6"/><rect x="422.90" y="275.6" width="1" height="6.2"/><rect x="426.50" y="270.7" width="1" height="11.0"/><rect x="427.40" y="277.5" width="1" height="6.9"/><rect x="428.30" y="281.8" width="1" height="8.8"/><rect x="437.30" y="248.9" width="1" height="7.6"/><rect x="438.20" y="250.0" width="1" height="7.1"/><rect x="439.10" y="252.1" width="1" height="11.0"/><rect x="441.80" y="257.0" width="1" height="6.3"/><rect x="442.70" y="257.8" width="1" height="10.3"/><rect x="443.60" y="263.4" width="1" height="8.4"/><rect x="444.50" y="266.9" width="1" height="6.5"/><rect x="445.40" y="268.9" width="1" height="9.2"/><rect x="447.20" y="274.1" width="1" height="7.3"/><rect x="449.00" y="274.3" width="1" height="5.5"/><rect x="452.60" y="268.0" width="1" height="7.1"/><rect x="454.40" y="268.4" width="1" height="7.5"/><rect x="458.00" y="260.0" width="1" height="7.6"/><rect x="459.80" y="261.6" width="1" height="5.3"/><rect x="462.50" y="256.5" width="1" height="9.5"/><rect x="463.40" y="263.6" width="1" height="12.1"/><rect x="464.30" y="272.4" width="1" height="11.6"/><rect x="465.20" y="276.4" width="1" height="6.6"/><rect x="469.70" y="264.4" width="1" height="7.3"/><rect x="472.40" y="264.1" width="1" height="7.4"/><rect x="473.30" y="266.9" width="1" height="9.4"/><rect x="474.20" y="271.6" width="1" height="7.4"/><rect x="475.10" y="273.2" width="1" height="7.5"/><rect x="476.00" y="276.0" width="1" height="7.0"/><rect x="481.40" y="262.1" width="1" height="8.0"/><rect x="490.40" y="234.6" width="1" height="6.4"/><rect x="492.20" y="237.0" width="1" height="8.0"/><rect x="494.00" y="243.1" width="1" height="9.0"/><rect x="495.80" y="247.0" width="1" height="8.4"/><rect x="496.70" y="250.9" width="1" height="7.3"/><rect x="497.60" y="252.5" width="1" height="6.5"/><rect x="498.50" y="256.0" width="1" height="8.2"/><rect x="499.40" y="259.9" width="1" height="9.7"/><rect x="500.30" y="263.0" width="1" height="8.6"/><rect x="501.20" y="266.0" width="1" height="10.0"/><rect x="504.80" y="261.2" width="1" height="12.8"/><rect x="505.70" y="265.0" width="1" height="14.0"/><rect x="506.60" y="265.3" width="1" height="10.9"/><rect x="510.20" y="257.4" width="1" height="8.5"/><rect x="516.50" y="246.0" width="1" height="22.0"/><rect x="517.40" y="266.1" width="1" height="10.7"/><rect x="518.30" y="270.2" width="1" height="8.6"/><rect x="519.20" y="271.6" width="1" height="7.6"/><rect x="520.10" y="274.0" width="1" height="6.8"/><rect x="521.00" y="275.1" width="1" height="6.2"/><rect x="521.90" y="276.4" width="1" height="6.8"/><rect x="522.80" y="278.0" width="1" height="6.2"/><rect x="523.70" y="279.4" width="1" height="6.2"/><rect x="528.20" y="276.8" width="1" height="8.1"/><rect x="531.80" y="275.8" width="1" height="10.4"/><rect x="532.70" y="280.6" width="1" height="12.9"/><rect x="533.60" y="285.9" width="1" height="12.4"/><rect x="534.50" y="287.4" width="1" height="13.2"/><rect x="535.40" y="290.8" width="1" height="14.1"/><rect x="536.30" y="295.8" width="1" height="13.2"/><rect x="539.00" y="290.0" width="1" height="15.4"/><rect x="539.90" y="297.7" width="1" height="11.5"/><rect x="540.80" y="302.2" width="1" height="9.0"/><rect x="541.70" y="305.4" width="1" height="9.6"/><rect x="546.20" y="299.6" width="1" height="9.3"/><rect x="547.10" y="300.9" width="1" height="9.2"/><rect x="550.70" y="296.9" width="1" height="8.8"/><rect x="551.60" y="298.1" width="1" height="8.9"/><rect x="553.40" y="303.0" width="1" height="10.0"/><rect x="554.30" y="308.9" width="1" height="8.5"/><rect x="555.20" y="313.1" width="1" height="12.9"/><rect x="557.00" y="309.0" width="1" height="11.5"/><rect x="557.90" y="316.9" width="1" height="9.1"/><rect x="559.70" y="316.4" width="1" height="26.6"/><rect x="562.40" y="300.4" width="1" height="15.6"/><rect x="564.20" y="302.0" width="1" height="11.8"/><rect x="565.10" y="309.2" width="1" height="14.8"/><rect x="566.00" y="313.0" width="1" height="17.2"/><rect x="566.90" y="316.7" width="1" height="23.3"/><rect x="573.20" y="295.4" width="1" height="13.8"/><rect x="577.70" y="249.4" width="1" height="9.0"/><rect x="582.20" y="236.7" width="1" height="6.2"/><rect x="583.10" y="232.4" width="1" height="11.5"/><rect x="584.90" y="231.9" width="1" height="6.7"/><rect x="587.60" y="231.1" width="1" height="9.9"/><rect x="593.00" y="225.3" width="1" height="7.3"/><rect x="593.90" y="222.1" width="1" height="9.5"/><rect x="595.70" y="217.3" width="1" height="9.4"/><rect x="597.50" y="216.5" width="1" height="7.0"/><rect x="600.20" y="208.3" width="1" height="7.7"/><rect x="602.00" y="207.8" width="1" height="8.0"/><rect x="603.80" y="206.9" width="1" height="6.3"/><rect x="604.70" y="205.0" width="1" height="10.5"/><rect x="610.10" y="189.8" width="1" height="7.1"/><rect x="611.00" y="190.1" width="1" height="6.7"/><rect x="615.50" y="183.9" width="1" height="5.1"/><rect x="622.70" y="175.3" width="1" height="9.4"/><rect x="623.60" y="177.3" width="1" height="9.2"/><rect x="628.10" y="170.1" width="1" height="7.0"/><rect x="629.00" y="171.1" width="1" height="6.9"/><rect x="629.90" y="130.2" width="1" height="36.8"/><rect x="631.70" y="148.7" width="1" height="10.8"/><rect x="632.60" y="152.7" width="1" height="8.4"/><rect x="634.40" y="155.1" width="1" height="10.4"/><rect x="635.30" y="159.2" width="1" height="10.4"/><rect x="638.00" y="156.2" width="1" height="9.7"/><rect x="639.80" y="161.5" width="1" height="9.7"/><rect x="640.70" y="164.6" width="1" height="8.8"/><rect x="641.60" y="168.0" width="1" height="12.1"/><rect x="642.50" y="172.4" width="1" height="6.8"/><rect x="643.40" y="175.6" width="1" height="7.7"/><rect x="644.30" y="177.0" width="1" height="9.0"/><rect x="646.10" y="178.1" width="1" height="9.8"/><rect x="647.90" y="177.4" width="1" height="9.3"/><rect x="648.80" y="180.6" width="1" height="5.6"/><rect x="649.70" y="181.4" width="1" height="7.3"/><rect x="651.50" y="179.7" width="1" height="8.5"/><rect x="652.40" y="183.0" width="1" height="7.8"/><rect x="653.30" y="183.6" width="1" height="11.4"/><rect x="658.70" y="171.6" width="1" height="8.0"/><rect x="660.50" y="169.7" width="1" height="9.1"/><rect x="662.30" y="171.2" width="1" height="7.1"/><rect x="663.20" y="172.8" width="1" height="5.5"/><rect x="665.00" y="173.7" width="1" height="7.7"/><rect x="666.80" y="169.5" width="1" height="6.8"/><rect x="667.70" y="169.5" width="1" height="6.5"/><rect x="668.60" y="167.4" width="1" height="8.9"/><rect x="669.50" y="166.0" width="1" height="9.0"/><rect x="674.00" y="161.3" width="1" height="10.0"/><rect x="674.90" y="167.2" width="1" height="11.3"/><rect x="675.80" y="170.6" width="1" height="7.1"/><rect x="676.70" y="170.9" width="1" height="8.1"/><rect x="678.50" y="169.8" width="1" height="7.5"/><rect x="679.40" y="168.4" width="1" height="9.2"/><rect x="686.60" y="140.0" width="1" height="14.0"/><rect x="687.50" y="146.2" width="1" height="15.1"/><rect x="688.40" y="153.6" width="1" height="17.6"/><rect x="690.20" y="165.8" width="1" height="13.9"/><rect x="691.10" y="173.9" width="1" height="11.4"/><rect x="692.00" y="182.7" width="1" height="10.7"/><rect x="694.70" y="175.4" width="1" height="12.8"/><rect x="697.40" y="174.1" width="1" height="12.8"/><rect x="698.30" y="177.5" width="1" height="15.2"/><rect x="699.20" y="182.6" width="1" height="22.7"/><rect x="700.10" y="188.6" width="1" height="17.1"/><rect x="701.00" y="196.2" width="1" height="15.8"/><rect x="701.90" y="204.2" width="1" height="13.4"/><rect x="702.80" y="206.7" width="1" height="18.3"/><rect x="706.40" y="196.2" width="1" height="8.5"/><rect x="708.20" y="194.8" width="1" height="9.3"/><rect x="709.10" y="199.3" width="1" height="8.3"/><rect x="710.00" y="202.2" width="1" height="9.8"/><rect x="713.60" y="197.8" width="1" height="10.1"/><rect x="714.50" y="202.4" width="1" height="9.3"/><rect x="715.40" y="204.2" width="1" height="10.8"/><rect x="718.10" y="199.6" width="1" height="4.9"/><rect x="719.00" y="199.0" width="1" height="7.7"/><rect x="722.60" y="198.4" width="1" height="6.6"/><rect x="723.50" y="197.6" width="1" height="10.1"/><rect x="724.40" y="198.2" width="1" height="15.5"/><rect x="725.30" y="202.0" width="1" height="15.0"/><rect x="728.00" y="202.5" width="1" height="8.6"/><rect x="728.90" y="202.3" width="1" height="11.5"/><rect x="730.70" y="208.0" width="1" height="9.5"/><rect x="731.60" y="210.5" width="1" height="12.6"/><rect x="732.50" y="215.0" width="1" height="11.6"/><rect x="734.30" y="220.9" width="1" height="12.0"/><rect x="735.20" y="225.0" width="1" height="10.2"/><rect x="736.10" y="230.2" width="1" height="14.5"/><rect x="737.00" y="234.9" width="1" height="17.1"/><rect x="741.50" y="210.5" width="1" height="8.3"/><rect x="742.40" y="250.0" width="1" height="21.0"/><rect x="744.20" y="258.6" width="1" height="19.8"/><rect x="746.00" y="267.5" width="1" height="29.8"/><rect x="746.90" y="267.5" width="1" height="25.6"/><rect x="749.60" y="272.3" width="1" height="16.0"/><rect x="750.50" y="279.4" width="1" height="11.4"/><rect x="751.40" y="285.0" width="1" height="10.0"/><rect x="752.30" y="287.3" width="1" height="11.5"/><rect x="753.20" y="289.3" width="1" height="11.0"/><rect x="754.10" y="291.3" width="1" height="10.4"/><rect x="755.00" y="293.4" width="1" height="10.9"/><rect x="755.90" y="293.7" width="1" height="17.6"/><rect x="756.80" y="295.1" width="1" height="12.5"/><rect x="759.50" y="286.7" width="1" height="10.9"/><rect x="762.20" y="281.8" width="1" height="9.9"/><rect x="764.90" y="280.5" width="1" height="8.0"/><rect x="766.70" y="282.5" width="1" height="9.7"/><rect x="767.60" y="282.8" width="1" height="7.5"/><rect x="768.50" y="284.5" width="1" height="10.5"/><rect x="770.30" y="289.5" width="1" height="11.0"/><rect x="771.20" y="292.0" width="1" height="18.0"/><rect x="772.10" y="295.3" width="1" height="14.6"/><rect x="773.00" y="300.0" width="1" height="12.0"/></g><g fill="#2c7465"><rect x="1.40" y="474.3" width="1.6" height="1.0"/><rect x="2.30" y="464.7" width="1.6" height="4.8"/><rect x="3.20" y="460.6" width="1.6" height="4.1"/><rect x="5.00" y="456.8" width="1.6" height="4.1"/><rect x="5.90" y="454.1" width="1.6" height="2.7"/><rect x="6.80" y="452.2" width="1.6" height="1.8"/><rect x="7.70" y="450.8" width="1.6" height="1.5"/><rect x="10.40" y="466.4" width="1.6" height="1.0"/><rect x="11.30" y="462.4" width="1.6" height="4.0"/><rect x="14.00" y="473.7" width="1.6" height="3.5"/><rect x="15.80" y="475.7" width="1.6" height="2.3"/><rect x="16.70" y="472.3" width="1.6" height="3.5"/><rect x="17.60" y="466.3" width="1.6" height="6.0"/><rect x="18.50" y="462.2" width="1.6" height="4.1"/><rect x="19.40" y="458.1" width="1.6" height="4.0"/><rect x="21.20" y="458.1" width="1.6" height="1.0"/><rect x="22.10" y="454.3" width="1.6" height="3.8"/><rect x="23.00" y="453.8" width="1.6" height="1.0"/><rect x="23.90" y="453.8" width="1.6" height="1.0"/><rect x="25.70" y="453.4" width="1.6" height="1.3"/><rect x="26.60" y="451.9" width="1.6" height="1.4"/><rect x="29.30" y="453.7" width="1.6" height="1.0"/><rect x="30.20" y="446.0" width="1.6" height="7.7"/><rect x="31.10" y="445.0" width="1.6" height="1.0"/><rect x="35.60" y="454.3" width="1.6" height="1.4"/><rect x="36.50" y="452.9" width="1.6" height="1.4"/><rect x="37.40" y="445.9" width="1.6" height="7.0"/><rect x="38.30" y="445.1" width="1.6" height="1.0"/><rect x="40.10" y="440.0" width="1.6" height="6.3"/><rect x="47.30" y="462.4" width="1.6" height="2.0"/><rect x="48.20" y="459.3" width="1.6" height="3.0"/><rect x="49.10" y="455.7" width="1.6" height="3.6"/><rect x="54.50" y="472.6" width="1.6" height="1.4"/><rect x="55.40" y="469.7" width="1.6" height="1.5"/><rect x="56.30" y="464.7" width="1.6" height="3.7"/><rect x="57.20" y="460.2" width="1.6" height="4.5"/><rect x="58.10" y="459.8" width="1.6" height="1.0"/><rect x="59.00" y="455.4" width="1.6" height="4.4"/><rect x="63.50" y="460.7" width="1.6" height="2.9"/><rect x="65.30" y="456.1" width="1.6" height="5.5"/><rect x="66.20" y="449.7" width="1.6" height="6.4"/><rect x="68.00" y="448.1" width="1.6" height="3.0"/><rect x="68.90" y="437.8" width="1.6" height="6.7"/><rect x="69.80" y="433.6" width="1.6" height="4.2"/><rect x="71.60" y="438.4" width="1.6" height="2.8"/><rect x="72.50" y="430.7" width="1.6" height="5.9"/><rect x="73.40" y="424.7" width="1.6" height="6.0"/><rect x="77.00" y="430.3" width="1.6" height="1.0"/><rect x="86.00" y="448.5" width="1.6" height="2.7"/><rect x="86.90" y="442.1" width="1.6" height="6.4"/><rect x="87.80" y="441.1" width="1.6" height="1.0"/><rect x="88.70" y="441.1" width="1.6" height="1.0"/><rect x="93.20" y="445.4" width="1.6" height="4.6"/><rect x="94.10" y="438.6" width="1.6" height="2.0"/><rect x="95.00" y="430.1" width="1.6" height="4.6"/><rect x="95.90" y="424.8" width="1.6" height="4.5"/><rect x="96.80" y="423.5" width="1.6" height="1.3"/><rect x="98.60" y="423.5" width="1.6" height="1.0"/><rect x="99.50" y="420.8" width="1.6" height="2.7"/><rect x="100.40" y="417.6" width="1.6" height="3.2"/><rect x="102.20" y="416.2" width="1.6" height="2.3"/><rect x="103.10" y="414.9" width="1.6" height="1.2"/><rect x="104.00" y="413.6" width="1.6" height="1.3"/><rect x="104.90" y="407.9" width="1.6" height="5.7"/><rect x="108.50" y="404.7" width="1.6" height="7.8"/><rect x="110.30" y="407.0" width="1.6" height="2.6"/><rect x="112.10" y="410.9" width="1.6" height="1.0"/><rect x="113.00" y="410.8" width="1.6" height="1.0"/><rect x="114.80" y="409.3" width="1.6" height="2.1"/><rect x="120.20" y="396.5" width="1.6" height="8.1"/><rect x="122.00" y="391.7" width="1.6" height="4.4"/><rect x="122.90" y="391.0" width="1.6" height="1.0"/><rect x="123.80" y="390.4" width="1.6" height="1.0"/><rect x="124.70" y="389.1" width="1.6" height="1.4"/><rect x="125.60" y="389.0" width="1.6" height="1.0"/><rect x="127.40" y="388.8" width="1.6" height="4.0"/><rect x="128.30" y="386.0" width="1.6" height="2.8"/><rect x="130.10" y="387.3" width="1.6" height="1.0"/><rect x="131.00" y="384.0" width="1.6" height="3.4"/><rect x="132.80" y="381.7" width="1.6" height="3.6"/><rect x="135.50" y="381.2" width="1.6" height="1.8"/><rect x="136.40" y="379.6" width="1.6" height="1.6"/><rect x="137.30" y="377.6" width="1.6" height="2.0"/><rect x="139.10" y="373.5" width="1.6" height="4.3"/><rect x="140.00" y="371.1" width="1.6" height="2.4"/><rect x="140.90" y="367.7" width="1.6" height="1.4"/><rect x="141.80" y="365.9" width="1.6" height="1.8"/><rect x="142.70" y="364.8" width="1.6" height="1.1"/><rect x="143.60" y="361.2" width="1.6" height="3.6"/><rect x="145.40" y="364.0" width="1.6" height="1.3"/><rect x="147.20" y="366.4" width="1.6" height="1.0"/><rect x="148.10" y="364.7" width="1.6" height="1.7"/><rect x="149.00" y="363.0" width="1.6" height="1.7"/><rect x="149.90" y="360.5" width="1.6" height="2.5"/><rect x="150.80" y="355.2" width="1.6" height="5.4"/><rect x="151.70" y="350.0" width="1.6" height="5.1"/><rect x="155.30" y="354.7" width="1.6" height="1.1"/><rect x="158.00" y="363.1" width="1.6" height="1.8"/><rect x="158.90" y="359.8" width="1.6" height="3.3"/><rect x="159.80" y="355.2" width="1.6" height="4.6"/><rect x="160.70" y="354.1" width="1.6" height="1.1"/><rect x="167.00" y="360.5" width="1.6" height="1.0"/><rect x="167.90" y="355.8" width="1.6" height="1.0"/><rect x="168.80" y="351.2" width="1.6" height="4.3"/><rect x="169.70" y="348.8" width="1.6" height="2.5"/><rect x="170.60" y="345.5" width="1.6" height="3.3"/><rect x="171.50" y="333.0" width="1.6" height="12.5"/><rect x="178.70" y="360.0" width="1.6" height="4.9"/><rect x="185.00" y="370.5" width="1.6" height="1.0"/><rect x="186.80" y="369.5" width="1.6" height="1.7"/><rect x="190.40" y="379.4" width="1.6" height="1.0"/><rect x="191.30" y="379.1" width="1.6" height="1.0"/><rect x="192.20" y="377.5" width="1.6" height="1.6"/><rect x="193.10" y="373.6" width="1.6" height="3.9"/><rect x="194.00" y="372.8" width="1.6" height="1.0"/><rect x="194.90" y="368.6" width="1.6" height="4.2"/><rect x="196.70" y="369.9" width="1.6" height="1.0"/><rect x="198.50" y="370.5" width="1.6" height="1.0"/><rect x="199.40" y="365.7" width="1.6" height="4.4"/><rect x="201.20" y="360.3" width="1.6" height="5.5"/><rect x="202.10" y="359.7" width="1.6" height="1.0"/><rect x="203.90" y="358.4" width="1.6" height="3.5"/><rect x="204.80" y="354.6" width="1.6" height="3.8"/><rect x="205.70" y="353.9" width="1.6" height="1.0"/><rect x="213.80" y="379.1" width="1.6" height="3.8"/><rect x="216.50" y="381.4" width="1.6" height="3.3"/><rect x="218.30" y="379.5" width="1.6" height="3.7"/><rect x="219.20" y="378.7" width="1.6" height="1.0"/><rect x="220.10" y="375.8" width="1.6" height="2.9"/><rect x="221.00" y="369.1" width="1.6" height="6.7"/><rect x="221.90" y="367.9" width="1.6" height="1.2"/><rect x="223.70" y="364.2" width="1.6" height="4.4"/><rect x="224.60" y="361.4" width="1.6" height="2.7"/><rect x="226.40" y="358.5" width="1.6" height="4.1"/><rect x="229.10" y="362.4" width="1.6" height="1.4"/><rect x="230.00" y="360.1" width="1.6" height="2.3"/><rect x="232.70" y="359.3" width="1.6" height="2.0"/><rect x="233.60" y="358.6" width="1.6" height="1.0"/><rect x="234.50" y="358.0" width="1.6" height="1.0"/><rect x="236.30" y="355.8" width="1.6" height="4.2"/><rect x="237.20" y="355.2" width="1.6" height="1.0"/><rect x="238.10" y="351.2" width="1.6" height="4.0"/><rect x="239.00" y="348.8" width="1.6" height="2.4"/><rect x="239.90" y="343.8" width="1.6" height="4.6"/><rect x="240.80" y="341.7" width="1.6" height="2.1"/><rect x="241.70" y="337.1" width="1.6" height="3.7"/><rect x="242.60" y="336.8" width="1.6" height="1.0"/><rect x="243.50" y="329.2" width="1.6" height="6.4"/><rect x="244.40" y="328.5" width="1.6" height="1.0"/><rect x="245.30" y="327.6" width="1.6" height="1.0"/><rect x="246.20" y="324.5" width="1.6" height="3.1"/><rect x="247.10" y="322.6" width="1.6" height="1.9"/><rect x="248.00" y="322.3" width="1.6" height="1.0"/><rect x="248.90" y="317.7" width="1.6" height="4.6"/><rect x="249.80" y="317.0" width="1.6" height="1.0"/><rect x="250.70" y="312.3" width="1.6" height="4.7"/><rect x="252.50" y="311.3" width="1.6" height="1.8"/><rect x="253.40" y="309.1" width="1.6" height="2.1"/><rect x="255.20" y="312.4" width="1.6" height="1.8"/><rect x="259.70" y="324.6" width="1.6" height="1.0"/><rect x="261.50" y="324.2" width="1.6" height="5.1"/><rect x="263.30" y="318.3" width="1.6" height="6.2"/><rect x="265.10" y="316.6" width="1.6" height="1.9"/><rect x="267.80" y="318.3" width="1.6" height="6.3"/><rect x="270.50" y="319.4" width="1.6" height="1.2"/><rect x="273.20" y="322.4" width="1.6" height="2.1"/><rect x="274.10" y="321.3" width="1.6" height="1.1"/><rect x="275.90" y="324.3" width="1.6" height="1.0"/><rect x="276.80" y="319.2" width="1.6" height="5.1"/><rect x="277.70" y="318.3" width="1.6" height="1.0"/><rect x="278.60" y="315.4" width="1.6" height="2.8"/><rect x="279.50" y="312.6" width="1.6" height="2.9"/><rect x="281.30" y="311.2" width="1.6" height="1.4"/><rect x="282.20" y="303.9" width="1.6" height="6.9"/><rect x="283.10" y="302.8" width="1.6" height="1.1"/><rect x="284.00" y="301.9" width="1.6" height="1.0"/><rect x="284.90" y="299.6" width="1.6" height="2.3"/><rect x="286.70" y="297.4" width="1.6" height="2.1"/><rect x="287.60" y="293.2" width="1.6" height="3.6"/><rect x="289.40" y="289.8" width="1.6" height="1.6"/><rect x="290.30" y="289.1" width="1.6" height="1.0"/><rect x="291.20" y="286.7" width="1.6" height="2.4"/><rect x="292.10" y="282.8" width="1.6" height="3.9"/><rect x="294.80" y="287.6" width="1.6" height="5.1"/><rect x="295.70" y="282.4" width="1.6" height="5.2"/><rect x="296.60" y="279.2" width="1.6" height="3.2"/><rect x="298.40" y="279.1" width="1.6" height="3.6"/><rect x="299.30" y="278.4" width="1.6" height="1.0"/><rect x="301.10" y="278.8" width="1.6" height="1.0"/><rect x="305.60" y="289.6" width="1.6" height="1.0"/><rect x="306.50" y="284.5" width="1.6" height="3.6"/><rect x="307.40" y="281.9" width="1.6" height="2.6"/><rect x="309.20" y="283.8" width="1.6" height="2.0"/><rect x="311.00" y="282.2" width="1.6" height="3.3"/><rect x="311.90" y="276.3" width="1.6" height="5.9"/><rect x="316.40" y="282.7" width="1.6" height="2.9"/><rect x="317.30" y="280.5" width="1.6" height="2.2"/><rect x="318.20" y="279.2" width="1.6" height="1.3"/><rect x="319.10" y="274.0" width="1.6" height="5.2"/><rect x="320.00" y="268.7" width="1.6" height="5.3"/><rect x="320.90" y="268.5" width="1.6" height="1.0"/><rect x="321.80" y="268.3" width="1.6" height="1.0"/><rect x="322.70" y="267.9" width="1.6" height="1.0"/><rect x="323.60" y="267.2" width="1.6" height="1.0"/><rect x="324.50" y="264.0" width="1.6" height="3.2"/><rect x="326.30" y="264.6" width="1.6" height="2.2"/><rect x="329.90" y="269.3" width="1.6" height="1.0"/><rect x="330.80" y="265.0" width="1.6" height="4.3"/><rect x="334.40" y="269.8" width="1.6" height="2.2"/><rect x="335.30" y="267.4" width="1.6" height="2.4"/><rect x="337.10" y="267.7" width="1.6" height="2.4"/><rect x="341.60" y="285.7" width="1.6" height="1.0"/><rect x="344.30" y="287.3" width="1.6" height="2.2"/><rect x="345.20" y="279.2" width="1.6" height="8.1"/><rect x="347.90" y="295.7" width="1.6" height="2.1"/><rect x="349.70" y="294.3" width="1.6" height="2.4"/><rect x="350.60" y="288.3" width="1.6" height="5.7"/><rect x="351.50" y="282.5" width="1.6" height="5.7"/><rect x="352.40" y="280.5" width="1.6" height="2.0"/><rect x="354.20" y="278.6" width="1.6" height="2.6"/><rect x="355.10" y="278.2" width="1.6" height="1.0"/><rect x="356.90" y="275.9" width="1.6" height="2.8"/><rect x="357.80" y="273.8" width="1.6" height="2.2"/><rect x="358.70" y="269.3" width="1.6" height="4.5"/><rect x="359.60" y="267.4" width="1.6" height="1.9"/><rect x="360.50" y="263.3" width="1.6" height="4.0"/><rect x="361.40" y="262.3" width="1.6" height="1.1"/><rect x="362.30" y="261.5" width="1.6" height="1.0"/><rect x="363.20" y="259.3" width="1.6" height="2.2"/><rect x="369.50" y="279.1" width="1.6" height="4.6"/><rect x="370.40" y="270.6" width="1.6" height="8.5"/><rect x="372.20" y="269.2" width="1.6" height="4.1"/><rect x="373.10" y="268.8" width="1.6" height="1.0"/><rect x="374.00" y="265.8" width="1.6" height="3.0"/><rect x="374.90" y="258.4" width="1.6" height="6.7"/><rect x="375.80" y="254.1" width="1.6" height="3.2"/><rect x="376.70" y="246.4" width="1.6" height="7.1"/><rect x="377.60" y="243.6" width="1.6" height="2.8"/><rect x="379.40" y="241.4" width="1.6" height="2.6"/><rect x="382.10" y="242.7" width="1.6" height="2.0"/><rect x="383.90" y="242.9" width="1.6" height="1.0"/><rect x="384.80" y="241.3" width="1.6" height="1.6"/><rect x="385.70" y="240.0" width="1.6" height="1.3"/><rect x="386.60" y="236.0" width="1.6" height="4.0"/><rect x="387.50" y="233.2" width="1.6" height="2.3"/><rect x="388.40" y="228.0" width="1.6" height="4.4"/><rect x="389.30" y="224.1" width="1.6" height="4.0"/><rect x="394.70" y="237.2" width="1.6" height="1.0"/><rect x="398.30" y="250.2" width="1.6" height="4.1"/><rect x="399.20" y="248.4" width="1.6" height="1.8"/><rect x="403.70" y="267.2" width="1.6" height="1.0"/><rect x="406.40" y="274.3" width="1.6" height="2.2"/><rect x="409.10" y="291.7" width="1.6" height="8.4"/><rect x="410.00" y="288.0" width="1.6" height="3.7"/><rect x="411.80" y="285.6" width="1.6" height="2.5"/><rect x="412.70" y="283.1" width="1.6" height="2.6"/><rect x="413.60" y="274.7" width="1.6" height="8.3"/><rect x="415.40" y="276.1" width="1.6" height="1.5"/><rect x="416.30" y="269.2" width="1.6" height="6.9"/><rect x="417.20" y="268.8" width="1.6" height="1.0"/><rect x="423.50" y="277.2" width="1.6" height="2.3"/><rect x="424.40" y="275.5" width="1.6" height="1.7"/><rect x="425.30" y="271.7" width="1.6" height="3.8"/><rect x="428.90" y="286.4" width="1.6" height="2.5"/><rect x="429.80" y="281.6" width="1.6" height="4.2"/><rect x="430.70" y="275.0" width="1.6" height="5.1"/><rect x="431.60" y="273.4" width="1.6" height="1.4"/><rect x="432.50" y="265.5" width="1.6" height="4.4"/><rect x="433.40" y="261.2" width="1.6" height="3.9"/><rect x="434.30" y="258.7" width="1.6" height="2.5"/><rect x="435.20" y="253.5" width="1.6" height="4.8"/><rect x="436.10" y="250.1" width="1.6" height="3.4"/><rect x="439.70" y="261.1" width="1.6" height="1.0"/><rect x="440.60" y="257.5" width="1.6" height="3.6"/><rect x="446.00" y="277.0" width="1.6" height="1.0"/><rect x="447.80" y="275.3" width="1.6" height="3.1"/><rect x="449.60" y="274.2" width="1.6" height="1.3"/><rect x="450.50" y="273.4" width="1.6" height="1.0"/><rect x="451.40" y="272.0" width="1.6" height="1.4"/><rect x="453.20" y="267.9" width="1.6" height="4.3"/><rect x="455.00" y="269.4" width="1.6" height="1.0"/><rect x="455.90" y="266.1" width="1.6" height="3.2"/><rect x="456.80" y="265.3" width="1.6" height="1.0"/><rect x="458.60" y="263.8" width="1.6" height="2.2"/><rect x="460.40" y="263.3" width="1.6" height="1.8"/><rect x="461.30" y="257.8" width="1.6" height="5.5"/><rect x="465.80" y="279.4" width="1.6" height="2.3"/><rect x="466.70" y="274.7" width="1.6" height="4.6"/><rect x="467.60" y="273.0" width="1.6" height="1.7"/><rect x="468.50" y="268.0" width="1.6" height="4.5"/><rect x="470.30" y="266.2" width="1.6" height="4.4"/><rect x="471.20" y="262.7" width="1.6" height="3.5"/><rect x="476.60" y="282.1" width="1.6" height="1.0"/><rect x="477.50" y="277.5" width="1.6" height="1.9"/><rect x="478.40" y="270.8" width="1.6" height="3.8"/><rect x="479.30" y="266.1" width="1.6" height="4.4"/><rect x="480.20" y="264.7" width="1.6" height="1.4"/><rect x="482.00" y="262.4" width="1.6" height="4.3"/><rect x="482.90" y="260.2" width="1.6" height="2.2"/><rect x="483.80" y="256.0" width="1.6" height="4.1"/><rect x="484.70" y="252.8" width="1.6" height="3.2"/><rect x="485.60" y="246.7" width="1.6" height="6.1"/><rect x="486.50" y="245.5" width="1.6" height="1.2"/><rect x="487.40" y="244.1" width="1.6" height="1.4"/><rect x="488.30" y="240.4" width="1.6" height="3.8"/><rect x="489.20" y="237.1" width="1.6" height="3.3"/><rect x="491.00" y="240.1" width="1.6" height="1.0"/><rect x="492.80" y="242.4" width="1.6" height="1.0"/><rect x="494.60" y="246.4" width="1.6" height="3.1"/><rect x="501.80" y="272.7" width="1.6" height="1.0"/><rect x="502.70" y="264.5" width="1.6" height="8.2"/><rect x="503.60" y="259.9" width="1.6" height="4.6"/><rect x="507.20" y="267.9" width="1.6" height="4.7"/><rect x="508.10" y="267.2" width="1.6" height="1.0"/><rect x="509.00" y="261.7" width="1.6" height="5.2"/><rect x="510.80" y="259.4" width="1.6" height="4.2"/><rect x="511.70" y="256.1" width="1.6" height="3.3"/><rect x="512.60" y="253.5" width="1.6" height="2.5"/><rect x="513.50" y="249.8" width="1.6" height="3.2"/><rect x="514.40" y="247.5" width="1.6" height="2.3"/><rect x="515.30" y="244.0" width="1.6" height="5.0"/><rect x="524.30" y="283.3" width="1.6" height="1.0"/><rect x="525.20" y="282.8" width="1.6" height="1.0"/><rect x="526.10" y="281.6" width="1.6" height="1.1"/><rect x="527.00" y="281.1" width="1.6" height="1.0"/><rect x="528.80" y="277.9" width="1.6" height="5.3"/><rect x="529.70" y="275.9" width="1.6" height="2.0"/><rect x="530.60" y="272.9" width="1.6" height="3.0"/><rect x="536.90" y="301.6" width="1.6" height="4.5"/><rect x="537.80" y="301.1" width="1.6" height="1.0"/><rect x="542.30" y="308.5" width="1.6" height="1.1"/><rect x="543.20" y="308.5" width="1.6" height="1.0"/><rect x="544.10" y="303.8" width="1.6" height="4.7"/><rect x="545.00" y="300.3" width="1.6" height="3.4"/><rect x="547.70" y="306.6" width="1.6" height="1.9"/><rect x="548.60" y="301.5" width="1.6" height="5.1"/><rect x="549.50" y="300.2" width="1.6" height="1.3"/><rect x="552.20" y="302.6" width="1.6" height="4.2"/><rect x="555.80" y="318.7" width="1.6" height="3.7"/><rect x="558.50" y="321.6" width="1.6" height="2.1"/><rect x="560.30" y="322.4" width="1.6" height="12.1"/><rect x="561.20" y="304.5" width="1.6" height="15.0"/><rect x="563.00" y="310.0" width="1.6" height="3.6"/><rect x="567.50" y="326.3" width="1.6" height="3.5"/><rect x="568.40" y="310.4" width="1.6" height="8.2"/><rect x="569.30" y="309.0" width="1.6" height="1.4"/><rect x="570.20" y="305.9" width="1.6" height="3.1"/><rect x="571.10" y="303.9" width="1.6" height="1.9"/><rect x="572.00" y="301.1" width="1.6" height="2.8"/><rect x="573.80" y="263.7" width="1.6" height="3.8"/><rect x="574.70" y="262.7" width="1.6" height="1.0"/><rect x="575.60" y="257.7" width="1.6" height="5.0"/><rect x="576.50" y="251.1" width="1.6" height="6.5"/><rect x="578.30" y="254.1" width="1.6" height="2.5"/><rect x="579.20" y="252.0" width="1.6" height="2.1"/><rect x="580.10" y="246.4" width="1.6" height="1.0"/><rect x="581.00" y="241.6" width="1.6" height="3.9"/><rect x="583.70" y="235.0" width="1.6" height="6.7"/><rect x="585.50" y="235.2" width="1.6" height="1.0"/><rect x="586.40" y="234.5" width="1.6" height="1.0"/><rect x="588.20" y="235.5" width="1.6" height="1.0"/><rect x="589.10" y="233.1" width="1.6" height="2.4"/><rect x="590.00" y="229.9" width="1.6" height="3.2"/><rect x="590.90" y="227.5" width="1.6" height="2.4"/><rect x="591.80" y="225.9" width="1.6" height="1.7"/><rect x="594.50" y="223.0" width="1.6" height="4.2"/><rect x="596.30" y="219.9" width="1.6" height="4.8"/><rect x="598.10" y="215.5" width="1.6" height="6.1"/><rect x="599.00" y="210.7" width="1.6" height="4.8"/><rect x="600.80" y="208.9" width="1.6" height="4.3"/><rect x="602.60" y="208.7" width="1.6" height="4.6"/><rect x="605.30" y="209.1" width="1.6" height="2.7"/><rect x="606.20" y="202.4" width="1.6" height="4.1"/><rect x="607.10" y="198.4" width="1.6" height="4.1"/><rect x="608.00" y="196.3" width="1.6" height="2.1"/><rect x="608.90" y="193.6" width="1.6" height="2.7"/><rect x="611.60" y="192.6" width="1.6" height="1.7"/><rect x="612.50" y="190.0" width="1.6" height="2.6"/><rect x="613.40" y="186.8" width="1.6" height="3.2"/><rect x="614.30" y="186.7" width="1.6" height="1.0"/><rect x="616.10" y="186.3" width="1.6" height="1.0"/><rect x="617.00" y="186.2" width="1.6" height="1.0"/><rect x="617.90" y="184.3" width="1.6" height="1.9"/><rect x="618.80" y="183.4" width="1.6" height="1.0"/><rect x="619.70" y="181.2" width="1.6" height="2.2"/><rect x="620.60" y="179.1" width="1.6" height="2.1"/><rect x="621.50" y="176.5" width="1.6" height="2.6"/><rect x="624.20" y="183.1" width="1.6" height="1.0"/><rect x="625.10" y="177.0" width="1.6" height="4.4"/><rect x="626.00" y="172.8" width="1.6" height="4.2"/><rect x="626.90" y="170.3" width="1.6" height="2.5"/><rect x="630.50" y="148.4" width="1.6" height="1.6"/><rect x="633.20" y="154.3" width="1.6" height="3.1"/><rect x="635.90" y="162.4" width="1.6" height="4.3"/><rect x="636.80" y="157.9" width="1.6" height="4.5"/><rect x="638.60" y="161.5" width="1.6" height="1.0"/><rect x="644.90" y="182.9" width="1.6" height="1.3"/><rect x="646.70" y="178.3" width="1.6" height="5.4"/><rect x="650.30" y="185.3" width="1.6" height="2.1"/><rect x="653.90" y="190.1" width="1.6" height="2.3"/><rect x="654.80" y="188.1" width="1.6" height="1.9"/><rect x="655.70" y="186.4" width="1.6" height="1.7"/><rect x="656.60" y="174.0" width="1.6" height="7.9"/><rect x="657.50" y="173.4" width="1.6" height="1.0"/><rect x="659.30" y="171.3" width="1.6" height="6.0"/><rect x="661.10" y="173.3" width="1.6" height="1.5"/><rect x="663.80" y="174.7" width="1.6" height="1.0"/><rect x="665.60" y="171.8" width="1.6" height="4.1"/><rect x="670.10" y="171.0" width="1.6" height="1.5"/><rect x="671.00" y="169.4" width="1.6" height="1.0"/><rect x="671.90" y="163.1" width="1.6" height="3.5"/><rect x="672.80" y="162.3" width="1.6" height="1.0"/><rect x="677.30" y="171.1" width="1.6" height="4.1"/><rect x="680.00" y="173.1" width="1.6" height="1.8"/><rect x="680.90" y="166.8" width="1.6" height="6.2"/><rect x="681.80" y="164.1" width="1.6" height="2.7"/><rect x="682.70" y="161.4" width="1.6" height="2.6"/><rect x="683.60" y="160.2" width="1.6" height="1.2"/><rect x="684.50" y="147.2" width="1.6" height="7.6"/><rect x="685.40" y="140.4" width="1.6" height="6.7"/><rect x="689.00" y="164.7" width="1.6" height="1.1"/><rect x="692.60" y="184.4" width="1.6" height="1.9"/><rect x="693.50" y="177.9" width="1.6" height="6.5"/><rect x="695.30" y="183.1" width="1.6" height="1.7"/><rect x="696.20" y="177.3" width="1.6" height="5.8"/><rect x="703.40" y="206.8" width="1.6" height="7.9"/><rect x="704.30" y="206.6" width="1.6" height="1.0"/><rect x="705.20" y="198.7" width="1.6" height="7.9"/><rect x="707.00" y="194.5" width="1.6" height="5.7"/><rect x="710.60" y="205.5" width="1.6" height="1.5"/><rect x="711.50" y="199.0" width="1.6" height="6.4"/><rect x="712.40" y="198.8" width="1.6" height="1.0"/><rect x="716.00" y="205.5" width="1.6" height="2.9"/><rect x="716.90" y="202.1" width="1.6" height="3.4"/><rect x="719.60" y="199.3" width="1.6" height="4.8"/><rect x="720.50" y="199.1" width="1.6" height="1.0"/><rect x="721.40" y="198.5" width="1.6" height="1.0"/><rect x="725.90" y="206.1" width="1.6" height="3.6"/><rect x="726.80" y="204.8" width="1.6" height="1.3"/><rect x="729.50" y="211.4" width="1.6" height="1.0"/><rect x="733.10" y="223.4" width="1.6" height="1.2"/><rect x="737.60" y="239.2" width="1.6" height="4.7"/><rect x="738.50" y="225.6" width="1.6" height="9.4"/><rect x="739.40" y="220.9" width="1.6" height="4.6"/><rect x="740.30" y="215.5" width="1.6" height="5.4"/><rect x="743.00" y="265.8" width="1.6" height="2.2"/><rect x="744.80" y="270.8" width="1.6" height="1.0"/><rect x="747.50" y="279.4" width="1.6" height="10.8"/><rect x="748.40" y="273.7" width="1.6" height="5.7"/><rect x="757.40" y="296.2" width="1.6" height="3.6"/><rect x="758.30" y="294.4" width="1.6" height="1.8"/><rect x="760.10" y="287.7" width="1.6" height="7.7"/><rect x="761.00" y="287.7" width="1.6" height="1.0"/><rect x="762.80" y="287.7" width="1.6" height="1.0"/><rect x="763.70" y="280.6" width="1.6" height="7.1"/><rect x="765.50" y="283.0" width="1.6" height="1.0"/><rect x="769.10" y="289.8" width="1.6" height="1.0"/></g><g fill="#b6464c"><rect x="0.50" y="473.5" width="1.6" height="1.0"/><rect x="4.10" y="460.6" width="1.6" height="1.0"/><rect x="8.60" y="450.8" width="1.6" height="7.5"/><rect x="9.50" y="460.5" width="1.6" height="6.3"/><rect x="12.20" y="464.1" width="1.6" height="7.9"/><rect x="13.10" y="472.1" width="1.6" height="5.2"/><rect x="14.90" y="473.7" width="1.6" height="4.3"/><rect x="20.30" y="458.1" width="1.6" height="1.0"/><rect x="24.80" y="453.8" width="1.6" height="1.0"/><rect x="27.50" y="451.9" width="1.6" height="2.0"/><rect x="28.40" y="453.9" width="1.6" height="1.0"/><rect x="32.00" y="445.0" width="1.6" height="4.4"/><rect x="32.90" y="449.4" width="1.6" height="2.2"/><rect x="33.80" y="451.6" width="1.6" height="2.0"/><rect x="34.70" y="453.6" width="1.6" height="2.1"/><rect x="39.20" y="445.1" width="1.6" height="1.2"/><rect x="41.00" y="442.9" width="1.6" height="2.7"/><rect x="41.90" y="448.9" width="1.6" height="1.3"/><rect x="42.80" y="451.0" width="1.6" height="1.0"/><rect x="43.70" y="453.0" width="1.6" height="1.0"/><rect x="44.60" y="455.0" width="1.6" height="2.1"/><rect x="45.50" y="457.1" width="1.6" height="5.4"/><rect x="46.40" y="462.5" width="1.6" height="1.9"/><rect x="50.00" y="455.7" width="1.6" height="2.9"/><rect x="50.90" y="458.6" width="1.6" height="4.1"/><rect x="51.80" y="465.1" width="1.6" height="1.0"/><rect x="52.70" y="467.9" width="1.6" height="7.2"/><rect x="53.60" y="475.1" width="1.6" height="1.0"/><rect x="59.90" y="455.4" width="1.6" height="2.7"/><rect x="60.80" y="458.1" width="1.6" height="1.0"/><rect x="61.70" y="458.6" width="1.6" height="1.0"/><rect x="62.60" y="459.0" width="1.6" height="4.7"/><rect x="64.40" y="460.7" width="1.6" height="1.0"/><rect x="67.10" y="449.7" width="1.6" height="1.4"/><rect x="70.70" y="435.0" width="1.6" height="6.1"/><rect x="74.30" y="424.7" width="1.6" height="1.0"/><rect x="75.20" y="425.0" width="1.6" height="3.4"/><rect x="76.10" y="428.4" width="1.6" height="2.1"/><rect x="77.90" y="430.3" width="1.6" height="6.4"/><rect x="78.80" y="436.6" width="1.6" height="1.1"/><rect x="79.70" y="437.7" width="1.6" height="4.7"/><rect x="80.60" y="442.4" width="1.6" height="2.0"/><rect x="81.50" y="444.3" width="1.6" height="3.8"/><rect x="82.40" y="448.2" width="1.6" height="1.0"/><rect x="83.30" y="448.5" width="1.6" height="1.0"/><rect x="84.20" y="449.0" width="1.6" height="2.8"/><rect x="85.10" y="451.8" width="1.6" height="1.5"/><rect x="89.60" y="441.1" width="1.6" height="1.8"/><rect x="90.50" y="442.8" width="1.6" height="2.5"/><rect x="91.40" y="445.3" width="1.6" height="2.6"/><rect x="92.30" y="447.9" width="1.6" height="2.1"/><rect x="97.70" y="423.5" width="1.6" height="1.0"/><rect x="101.30" y="417.6" width="1.6" height="1.0"/><rect x="105.80" y="407.9" width="1.6" height="1.1"/><rect x="106.70" y="409.1" width="1.6" height="1.8"/><rect x="107.60" y="410.9" width="1.6" height="1.5"/><rect x="109.40" y="405.6" width="1.6" height="4.0"/><rect x="111.20" y="408.3" width="1.6" height="2.8"/><rect x="113.90" y="410.8" width="1.6" height="1.0"/><rect x="115.70" y="409.3" width="1.6" height="1.0"/><rect x="116.60" y="410.2" width="1.6" height="1.8"/><rect x="117.50" y="412.0" width="1.6" height="1.9"/><rect x="118.40" y="413.9" width="1.6" height="1.6"/><rect x="119.30" y="415.4" width="1.6" height="2.3"/><rect x="121.10" y="396.5" width="1.6" height="1.0"/><rect x="126.50" y="389.0" width="1.6" height="3.7"/><rect x="129.20" y="386.0" width="1.6" height="1.6"/><rect x="131.90" y="384.0" width="1.6" height="1.3"/><rect x="133.70" y="381.7" width="1.6" height="1.0"/><rect x="134.60" y="382.0" width="1.6" height="1.0"/><rect x="138.20" y="377.6" width="1.6" height="1.0"/><rect x="144.50" y="361.2" width="1.6" height="4.1"/><rect x="146.30" y="364.7" width="1.6" height="2.4"/><rect x="152.60" y="350.0" width="1.6" height="1.5"/><rect x="153.50" y="351.5" width="1.6" height="1.8"/><rect x="154.40" y="353.4" width="1.6" height="2.4"/><rect x="156.20" y="355.8" width="1.6" height="2.2"/><rect x="157.10" y="357.9" width="1.6" height="8.8"/><rect x="161.60" y="354.1" width="1.6" height="1.0"/><rect x="162.50" y="354.8" width="1.6" height="1.3"/><rect x="163.40" y="356.1" width="1.6" height="4.9"/><rect x="164.30" y="361.1" width="1.6" height="1.0"/><rect x="165.20" y="362.0" width="1.6" height="1.0"/><rect x="166.10" y="362.9" width="1.6" height="2.3"/><rect x="172.40" y="334.7" width="1.6" height="6.4"/><rect x="173.30" y="341.1" width="1.6" height="7.3"/><rect x="174.20" y="348.4" width="1.6" height="1.0"/><rect x="175.10" y="349.3" width="1.6" height="1.0"/><rect x="176.00" y="349.7" width="1.6" height="1.0"/><rect x="176.90" y="351.9" width="1.6" height="8.0"/><rect x="177.80" y="359.9" width="1.6" height="5.0"/><rect x="179.60" y="360.0" width="1.6" height="3.2"/><rect x="180.50" y="363.2" width="1.6" height="1.0"/><rect x="181.40" y="363.7" width="1.6" height="1.1"/><rect x="182.30" y="364.7" width="1.6" height="3.2"/><rect x="183.20" y="367.9" width="1.6" height="1.6"/><rect x="184.10" y="369.5" width="1.6" height="1.9"/><rect x="185.90" y="370.5" width="1.6" height="1.0"/><rect x="187.70" y="369.5" width="1.6" height="6.0"/><rect x="188.60" y="375.5" width="1.6" height="1.0"/><rect x="189.50" y="375.5" width="1.6" height="4.5"/><rect x="195.80" y="368.6" width="1.6" height="2.1"/><rect x="197.60" y="369.9" width="1.6" height="1.1"/><rect x="200.30" y="365.7" width="1.6" height="1.0"/><rect x="203.00" y="359.7" width="1.6" height="2.1"/><rect x="206.60" y="355.0" width="1.6" height="3.3"/><rect x="207.50" y="358.3" width="1.6" height="1.0"/><rect x="208.40" y="358.4" width="1.6" height="5.0"/><rect x="209.30" y="363.4" width="1.6" height="1.3"/><rect x="210.20" y="364.7" width="1.6" height="2.5"/><rect x="211.10" y="367.2" width="1.6" height="4.1"/><rect x="212.00" y="371.3" width="1.6" height="7.8"/><rect x="212.90" y="379.1" width="1.6" height="3.8"/><rect x="214.70" y="379.1" width="1.6" height="1.8"/><rect x="215.60" y="380.9" width="1.6" height="3.9"/><rect x="217.40" y="381.4" width="1.6" height="1.8"/><rect x="222.80" y="367.9" width="1.6" height="1.0"/><rect x="225.50" y="361.4" width="1.6" height="1.2"/><rect x="227.30" y="358.5" width="1.6" height="4.4"/><rect x="228.20" y="362.9" width="1.6" height="1.0"/><rect x="230.90" y="360.1" width="1.6" height="1.0"/><rect x="231.80" y="360.7" width="1.6" height="1.0"/><rect x="235.40" y="358.0" width="1.6" height="2.0"/><rect x="251.60" y="312.3" width="1.6" height="1.0"/><rect x="254.30" y="309.1" width="1.6" height="5.1"/><rect x="256.10" y="312.4" width="1.6" height="6.1"/><rect x="257.00" y="318.6" width="1.6" height="1.2"/><rect x="257.90" y="319.7" width="1.6" height="5.4"/><rect x="258.80" y="325.1" width="1.6" height="1.0"/><rect x="260.60" y="324.6" width="1.6" height="5.6"/><rect x="262.40" y="324.2" width="1.6" height="1.0"/><rect x="264.20" y="318.3" width="1.6" height="1.0"/><rect x="266.00" y="317.2" width="1.6" height="6.7"/><rect x="266.90" y="323.9" width="1.6" height="1.0"/><rect x="268.70" y="318.3" width="1.6" height="1.1"/><rect x="269.60" y="319.4" width="1.6" height="1.2"/><rect x="271.40" y="319.4" width="1.6" height="3.0"/><rect x="272.30" y="322.4" width="1.6" height="2.1"/><rect x="275.00" y="321.3" width="1.6" height="3.1"/><rect x="280.40" y="312.6" width="1.6" height="1.0"/><rect x="285.80" y="299.6" width="1.6" height="1.0"/><rect x="288.50" y="293.2" width="1.6" height="1.0"/><rect x="293.00" y="282.8" width="1.6" height="7.5"/><rect x="293.90" y="290.3" width="1.6" height="2.4"/><rect x="297.50" y="279.2" width="1.6" height="3.5"/><rect x="300.20" y="278.4" width="1.6" height="1.0"/><rect x="302.00" y="281.0" width="1.6" height="3.9"/><rect x="302.90" y="284.9" width="1.6" height="3.4"/><rect x="303.80" y="288.3" width="1.6" height="2.5"/><rect x="304.70" y="290.7" width="1.6" height="1.0"/><rect x="308.30" y="281.9" width="1.6" height="3.8"/><rect x="310.10" y="283.8" width="1.6" height="1.7"/><rect x="312.80" y="276.7" width="1.6" height="5.0"/><rect x="313.70" y="281.7" width="1.6" height="1.0"/><rect x="314.60" y="284.3" width="1.6" height="1.0"/><rect x="315.50" y="285.3" width="1.6" height="1.0"/><rect x="325.40" y="264.0" width="1.6" height="2.9"/><rect x="327.20" y="264.6" width="1.6" height="1.6"/><rect x="328.10" y="266.3" width="1.6" height="1.1"/><rect x="329.00" y="267.4" width="1.6" height="2.7"/><rect x="331.70" y="265.0" width="1.6" height="1.0"/><rect x="332.60" y="265.4" width="1.6" height="6.1"/><rect x="333.50" y="271.5" width="1.6" height="1.0"/><rect x="336.20" y="267.4" width="1.6" height="2.7"/><rect x="338.00" y="267.7" width="1.6" height="3.5"/><rect x="338.90" y="271.3" width="1.6" height="2.7"/><rect x="339.80" y="274.0" width="1.6" height="6.0"/><rect x="340.70" y="280.0" width="1.6" height="6.5"/><rect x="342.50" y="285.7" width="1.6" height="2.8"/><rect x="343.40" y="288.5" width="1.6" height="1.0"/><rect x="346.10" y="284.1" width="1.6" height="3.4"/><rect x="347.00" y="288.8" width="1.6" height="9.1"/><rect x="348.80" y="295.7" width="1.6" height="1.0"/><rect x="353.30" y="280.5" width="1.6" height="1.0"/><rect x="356.00" y="278.2" width="1.6" height="1.0"/><rect x="364.10" y="259.3" width="1.6" height="3.8"/><rect x="365.00" y="263.1" width="1.6" height="3.8"/><rect x="365.90" y="266.9" width="1.6" height="5.5"/><rect x="366.80" y="272.4" width="1.6" height="7.7"/><rect x="367.70" y="280.1" width="1.6" height="2.7"/><rect x="368.60" y="282.8" width="1.6" height="1.0"/><rect x="371.30" y="270.6" width="1.6" height="3.1"/><rect x="378.50" y="243.6" width="1.6" height="1.0"/><rect x="380.30" y="241.4" width="1.6" height="1.0"/><rect x="381.20" y="241.8" width="1.6" height="2.9"/><rect x="383.00" y="242.7" width="1.6" height="1.0"/><rect x="390.20" y="224.1" width="1.6" height="2.2"/><rect x="391.10" y="226.3" width="1.6" height="1.3"/><rect x="392.00" y="227.6" width="1.6" height="5.1"/><rect x="392.90" y="232.7" width="1.6" height="1.2"/><rect x="393.80" y="233.9" width="1.6" height="4.3"/><rect x="395.60" y="240.4" width="1.6" height="2.1"/><rect x="396.50" y="244.5" width="1.6" height="8.2"/><rect x="397.40" y="252.7" width="1.6" height="1.6"/><rect x="400.10" y="248.4" width="1.6" height="3.9"/><rect x="401.00" y="256.2" width="1.6" height="6.8"/><rect x="401.90" y="263.0" width="1.6" height="4.3"/><rect x="402.80" y="267.3" width="1.6" height="1.0"/><rect x="404.60" y="267.2" width="1.6" height="3.9"/><rect x="405.50" y="271.1" width="1.6" height="5.4"/><rect x="407.30" y="276.3" width="1.6" height="5.5"/><rect x="408.20" y="288.0" width="1.6" height="12.1"/><rect x="410.90" y="288.0" width="1.6" height="1.0"/><rect x="414.50" y="274.7" width="1.6" height="2.8"/><rect x="418.10" y="268.8" width="1.6" height="1.3"/><rect x="419.00" y="270.1" width="1.6" height="1.0"/><rect x="419.90" y="270.4" width="1.6" height="3.7"/><rect x="420.80" y="274.2" width="1.6" height="1.0"/><rect x="421.70" y="274.5" width="1.6" height="2.7"/><rect x="422.60" y="277.2" width="1.6" height="2.3"/><rect x="426.20" y="271.9" width="1.6" height="5.8"/><rect x="427.10" y="277.7" width="1.6" height="5.1"/><rect x="428.00" y="282.8" width="1.6" height="6.2"/><rect x="437.00" y="250.5" width="1.6" height="1.0"/><rect x="437.90" y="251.8" width="1.6" height="1.9"/><rect x="438.80" y="253.7" width="1.6" height="8.1"/><rect x="441.50" y="257.5" width="1.6" height="2.9"/><rect x="442.40" y="260.4" width="1.6" height="6.8"/><rect x="443.30" y="267.3" width="1.6" height="3.3"/><rect x="444.20" y="270.6" width="1.6" height="1.0"/><rect x="445.10" y="270.8" width="1.6" height="6.9"/><rect x="446.90" y="277.0" width="1.6" height="1.4"/><rect x="448.70" y="275.3" width="1.6" height="1.0"/><rect x="452.30" y="272.0" width="1.6" height="1.0"/><rect x="454.10" y="269.5" width="1.6" height="1.0"/><rect x="457.70" y="265.3" width="1.6" height="1.0"/><rect x="459.50" y="263.8" width="1.6" height="1.4"/><rect x="462.20" y="257.8" width="1.6" height="2.2"/><rect x="463.10" y="263.9" width="1.6" height="8.3"/><rect x="464.00" y="272.6" width="1.6" height="5.9"/><rect x="464.90" y="278.4" width="1.6" height="3.2"/><rect x="469.40" y="268.0" width="1.6" height="2.6"/><rect x="472.10" y="264.5" width="1.6" height="1.9"/><rect x="473.00" y="267.9" width="1.6" height="5.6"/><rect x="473.90" y="273.5" width="1.6" height="1.0"/><rect x="474.80" y="273.8" width="1.6" height="5.5"/><rect x="475.70" y="279.3" width="1.6" height="3.2"/><rect x="481.10" y="264.7" width="1.6" height="1.9"/><rect x="490.10" y="237.1" width="1.6" height="3.2"/><rect x="491.90" y="240.1" width="1.6" height="2.8"/><rect x="493.70" y="243.5" width="1.6" height="6.0"/><rect x="495.50" y="248.3" width="1.6" height="2.8"/><rect x="496.40" y="251.1" width="1.6" height="2.2"/><rect x="497.30" y="253.4" width="1.6" height="1.3"/><rect x="498.20" y="256.7" width="1.6" height="5.7"/><rect x="499.10" y="262.3" width="1.6" height="6.4"/><rect x="500.00" y="268.8" width="1.6" height="1.0"/><rect x="500.90" y="269.1" width="1.6" height="4.4"/><rect x="504.50" y="261.7" width="1.6" height="6.9"/><rect x="505.40" y="268.6" width="1.6" height="1.5"/><rect x="506.30" y="270.1" width="1.6" height="2.5"/><rect x="509.90" y="261.7" width="1.6" height="1.9"/><rect x="516.20" y="249.0" width="1.6" height="16.0"/><rect x="517.10" y="267.5" width="1.6" height="2.8"/><rect x="518.00" y="270.3" width="1.6" height="5.6"/><rect x="518.90" y="275.9" width="1.6" height="1.8"/><rect x="519.80" y="277.8" width="1.6" height="1.0"/><rect x="520.70" y="278.4" width="1.6" height="1.0"/><rect x="521.60" y="279.0" width="1.6" height="1.8"/><rect x="522.50" y="280.8" width="1.6" height="2.9"/><rect x="523.40" y="283.7" width="1.6" height="1.0"/><rect x="527.90" y="281.1" width="1.6" height="2.1"/><rect x="531.50" y="277.4" width="1.6" height="4.5"/><rect x="532.40" y="281.9" width="1.6" height="4.8"/><rect x="533.30" y="286.7" width="1.6" height="2.4"/><rect x="534.20" y="289.1" width="1.6" height="3.2"/><rect x="535.10" y="292.3" width="1.6" height="7.8"/><rect x="536.00" y="300.2" width="1.6" height="5.9"/><rect x="538.70" y="301.1" width="1.6" height="1.0"/><rect x="539.60" y="301.2" width="1.6" height="6.5"/><rect x="540.50" y="307.8" width="1.6" height="1.0"/><rect x="541.40" y="308.0" width="1.6" height="1.6"/><rect x="545.90" y="300.3" width="1.6" height="4.1"/><rect x="546.80" y="304.4" width="1.6" height="4.0"/><rect x="550.40" y="300.2" width="1.6" height="2.4"/><rect x="551.30" y="302.7" width="1.6" height="4.2"/><rect x="553.10" y="303.6" width="1.6" height="1.0"/><rect x="554.00" y="310.0" width="1.6" height="3.9"/><rect x="554.90" y="314.6" width="1.6" height="8.0"/><rect x="556.70" y="318.7" width="1.6" height="1.0"/><rect x="557.60" y="319.5" width="1.6" height="4.2"/><rect x="559.40" y="321.6" width="1.6" height="16.7"/><rect x="562.10" y="304.5" width="1.6" height="9.0"/><rect x="563.90" y="310.0" width="1.6" height="1.9"/><rect x="564.80" y="311.9" width="1.6" height="9.4"/><rect x="565.70" y="321.3" width="1.6" height="8.4"/><rect x="566.60" y="329.7" width="1.6" height="5.8"/><rect x="572.90" y="301.1" width="1.6" height="4.5"/><rect x="577.40" y="251.1" width="1.6" height="5.5"/><rect x="581.90" y="241.6" width="1.6" height="1.0"/><rect x="582.80" y="241.6" width="1.6" height="1.0"/><rect x="584.60" y="235.0" width="1.6" height="1.0"/><rect x="587.30" y="234.5" width="1.6" height="1.9"/><rect x="592.70" y="225.9" width="1.6" height="1.0"/><rect x="593.60" y="226.7" width="1.6" height="1.0"/><rect x="595.40" y="223.0" width="1.6" height="1.7"/><rect x="597.20" y="219.9" width="1.6" height="1.7"/><rect x="599.90" y="210.7" width="1.6" height="2.5"/><rect x="601.70" y="208.9" width="1.6" height="4.4"/><rect x="603.50" y="208.7" width="1.6" height="1.5"/><rect x="604.40" y="210.2" width="1.6" height="1.6"/><rect x="609.80" y="193.6" width="1.6" height="1.0"/><rect x="610.70" y="194.0" width="1.6" height="1.0"/><rect x="615.20" y="186.7" width="1.6" height="1.0"/><rect x="622.40" y="176.5" width="1.6" height="5.5"/><rect x="623.30" y="181.9" width="1.6" height="1.3"/><rect x="627.80" y="170.9" width="1.6" height="1.4"/><rect x="628.70" y="172.3" width="1.6" height="2.3"/><rect x="629.60" y="136.0" width="1.6" height="14.0"/><rect x="631.40" y="149.8" width="1.6" height="5.8"/><rect x="632.30" y="155.5" width="1.6" height="1.9"/><rect x="634.10" y="155.1" width="1.6" height="9.3"/><rect x="635.00" y="164.4" width="1.6" height="2.3"/><rect x="637.70" y="157.9" width="1.6" height="3.7"/><rect x="639.50" y="162.4" width="1.6" height="1.0"/><rect x="640.40" y="166.0" width="1.6" height="2.7"/><rect x="641.30" y="169.7" width="1.6" height="5.4"/><rect x="642.20" y="175.1" width="1.6" height="1.0"/><rect x="643.10" y="175.9" width="1.6" height="5.0"/><rect x="644.00" y="180.9" width="1.6" height="3.3"/><rect x="645.80" y="182.9" width="1.6" height="1.0"/><rect x="647.60" y="178.9" width="1.6" height="2.8"/><rect x="648.50" y="181.8" width="1.6" height="3.9"/><rect x="649.40" y="185.7" width="1.6" height="1.8"/><rect x="651.20" y="185.3" width="1.6" height="1.0"/><rect x="652.10" y="185.4" width="1.6" height="1.0"/><rect x="653.00" y="186.4" width="1.6" height="6.0"/><rect x="658.40" y="173.4" width="1.6" height="3.8"/><rect x="660.20" y="171.3" width="1.6" height="3.6"/><rect x="662.00" y="173.3" width="1.6" height="1.5"/><rect x="662.90" y="174.8" width="1.6" height="1.0"/><rect x="664.70" y="174.7" width="1.6" height="1.2"/><rect x="666.50" y="171.8" width="1.6" height="1.0"/><rect x="667.40" y="172.0" width="1.6" height="2.5"/><rect x="668.30" y="174.4" width="1.6" height="1.2"/><rect x="669.20" y="174.8" width="1.6" height="1.0"/><rect x="673.70" y="163.1" width="1.6" height="3.5"/><rect x="674.60" y="168.0" width="1.6" height="5.5"/><rect x="675.50" y="173.5" width="1.6" height="1.0"/><rect x="676.40" y="173.8" width="1.6" height="1.5"/><rect x="678.20" y="171.1" width="1.6" height="2.7"/><rect x="679.10" y="173.8" width="1.6" height="1.1"/><rect x="686.30" y="140.7" width="1.6" height="5.6"/><rect x="687.20" y="147.1" width="1.6" height="9.8"/><rect x="688.10" y="156.9" width="1.6" height="8.9"/><rect x="689.90" y="167.1" width="1.6" height="6.0"/><rect x="690.80" y="175.2" width="1.6" height="7.5"/><rect x="691.70" y="183.3" width="1.6" height="3.0"/><rect x="694.40" y="177.9" width="1.6" height="6.9"/><rect x="697.10" y="177.3" width="1.6" height="1.7"/><rect x="698.00" y="178.9" width="1.6" height="5.3"/><rect x="698.90" y="184.3" width="1.6" height="10.1"/><rect x="699.80" y="194.4" width="1.6" height="5.5"/><rect x="700.70" y="199.9" width="1.6" height="5.6"/><rect x="701.60" y="205.5" width="1.6" height="2.0"/><rect x="702.50" y="207.5" width="1.6" height="7.2"/><rect x="706.10" y="198.7" width="1.6" height="1.5"/><rect x="707.90" y="196.6" width="1.6" height="3.3"/><rect x="708.80" y="200.0" width="1.6" height="3.2"/><rect x="709.70" y="203.5" width="1.6" height="3.4"/><rect x="713.30" y="199.2" width="1.6" height="6.0"/><rect x="714.20" y="205.2" width="1.6" height="1.2"/><rect x="715.10" y="206.4" width="1.6" height="2.0"/><rect x="717.80" y="202.1" width="1.6" height="1.0"/><rect x="718.70" y="203.1" width="1.6" height="1.0"/><rect x="722.30" y="198.7" width="1.6" height="1.0"/><rect x="723.20" y="199.3" width="1.6" height="1.0"/><rect x="724.10" y="200.0" width="1.6" height="7.8"/><rect x="725.00" y="207.8" width="1.6" height="1.9"/><rect x="727.70" y="204.8" width="1.6" height="2.4"/><rect x="728.60" y="207.2" width="1.6" height="4.8"/><rect x="730.40" y="211.4" width="1.6" height="3.7"/><rect x="731.30" y="215.1" width="1.6" height="3.6"/><rect x="732.20" y="218.7" width="1.6" height="5.9"/><rect x="734.00" y="223.4" width="1.6" height="7.8"/><rect x="734.90" y="231.2" width="1.6" height="1.0"/><rect x="735.80" y="232.2" width="1.6" height="4.8"/><rect x="736.70" y="237.1" width="1.6" height="11.1"/><rect x="741.20" y="215.5" width="1.6" height="1.5"/><rect x="742.10" y="251.0" width="1.6" height="17.0"/><rect x="743.90" y="265.8" width="1.6" height="5.3"/><rect x="745.70" y="270.8" width="1.6" height="12.5"/><rect x="746.60" y="283.3" width="1.6" height="7.5"/><rect x="749.30" y="273.7" width="1.6" height="9.8"/><rect x="750.20" y="283.5" width="1.6" height="2.6"/><rect x="751.10" y="286.1" width="1.6" height="6.0"/><rect x="752.00" y="292.1" width="1.6" height="3.4"/><rect x="752.90" y="295.5" width="1.6" height="1.1"/><rect x="753.80" y="296.6" width="1.6" height="1.0"/><rect x="754.70" y="296.8" width="1.6" height="1.8"/><rect x="755.60" y="298.6" width="1.6" height="1.0"/><rect x="756.50" y="299.1" width="1.6" height="1.0"/><rect x="759.20" y="294.4" width="1.6" height="1.6"/><rect x="761.90" y="287.7" width="1.6" height="1.0"/><rect x="764.60" y="280.6" width="1.6" height="3.0"/><rect x="766.40" y="283.0" width="1.6" height="3.1"/><rect x="767.30" y="286.2" width="1.6" height="1.0"/><rect x="768.20" y="286.4" width="1.6" height="4.1"/><rect x="770.00" y="289.8" width="1.6" height="5.4"/><rect x="770.90" y="295.2" width="1.6" height="3.4"/><rect x="771.80" y="298.6" width="1.6" height="6.6"/><rect x="772.70" y="305.2" width="1.6" height="6.8"/></g><rect x="536" y="248" width="51" height="91.5" fill="rgba(156,39,176,0.2)" stroke="#8e2ea6" stroke-width="2"/><rect x="743.2" y="215" width="51.799999999999955" height="91.80000000000001" fill="rgba(156,39,176,0.2)" stroke="#8e2ea6" stroke-width="2"/><line x1="405.3" y1="295" x2="754" y2="237.2" stroke="#b13c70" stroke-width="3.4" stroke-linecap="round" opacity="0.85"/><line x1="389" y1="309.8" x2="736.5" y2="251.9" stroke="#c25c8e" stroke-width="3.4" stroke-linecap="round" opacity="0.85"/><line x1="552.5" y1="302" x2="746.3" y2="223.5" stroke="#5a5a5e" stroke-width="1" /><line x1="547" y1="329.3" x2="758.9" y2="243.1" stroke="#5a5a5e" stroke-width="1" /><line x1="560.3" y1="337.8" x2="761" y2="254.4" stroke="#5a5a5e" stroke-width="1" /><line x1="587" y1="335.5" x2="835.8" y2="229.8" stroke="#5a5a5e" stroke-width="1" /><g style="mix-blend-mode:multiply" filter="url(#blur1)" fill="#ffdc00"><rect x="530.5" y="329.5" width="49" height="12" rx="3"/><rect x="742" y="299" width="38.5" height="14.5" rx="4"/></g><g filter="url(#blur1)" fill="#ffe000" opacity="0.45"><rect x="530.5" y="329.5" width="49" height="12" rx="3"/><rect x="742" y="299" width="38.5" height="14.5" rx="4"/></g><clipPath id="ycl"><rect x="530.5" y="329.5" width="49" height="12" rx="3"/><rect x="742" y="299" width="38.5" height="14.5" rx="4"/></clipPath><g clip-path="url(#ycl)" fill="none" stroke="#94500f" stroke-width="2" opacity="0.9"><rect x="536" y="248" width="51" height="91.5"/><rect x="743.2" y="215" width="51.8" height="91.8"/></g><g stroke="#cc9f7a" stroke-width="4.2" fill="none" stroke-linecap="round" stroke-linejoin="round" opacity="0.9" filter="url(#blur06)"><path d="M773.4,303 C775,295 777.5,284 779.5,276 C781,269 783,261 785.2,250.5"/><path d="M777,255 L785.2,250.5 L790.5,258"/></g><line x1="12.8" y1="487.2" x2="883.4" y2="263.8" stroke="#000" stroke-width="2.6" stroke-linecap="round"/><line x1="0" y1="311.5" x2="944" y2="311.5" stroke="#4a4a50" stroke-width="1" stroke-dasharray="1 2" shape-rendering="crispEdges"/></g><circle cx="14.6" cy="503.7" r="15.5" fill="#b8a8d8" opacity="0.35" filter="url(#shadow)"/><circle cx="14.6" cy="502.7" r="14.6" fill="#8ec752"/><text x="14.6" y="507.9" text-anchor="middle" font-family="Liberation Sans" font-size="15" fill="#f4fce8">1</text><circle cx="53.7" cy="493.9" r="15.5" fill="#b8a8d8" opacity="0.35" filter="url(#shadow)"/><circle cx="53.7" cy="492.9" r="14.6" fill="#8ec752"/><text x="53.7" y="498.1" text-anchor="middle" font-family="Liberation Sans" font-size="15" fill="#f4fce8">2</text><circle cx="557.4" cy="362" r="15.5" fill="#b8a8d8" opacity="0.35" filter="url(#shadow)"/><circle cx="557.4" cy="361" r="14.6" fill="#8ec752"/><text x="557.4" y="366.2" text-anchor="middle" font-family="Liberation Sans" font-size="15" fill="#f4fce8">3</text><circle cx="795" cy="331.6" r="15.5" fill="#b8a8d8" opacity="0.35" filter="url(#shadow)"/><circle cx="795" cy="330.6" r="14.6" fill="#8ec752"/><text x="795" y="335.8" text-anchor="middle" font-family="Liberation Sans" font-size="15" fill="#f4fce8">4</text><text x="706.2" y="339.7" font-family="Liberation Sans" font-size="21.5" fill="#000" textLength="54.6" lengthAdjust="spacingAndGlyphs">MSFT</text><text x="703.2" y="350.5" font-family="Liberation Sans" font-size="16" fill="#000" textLength="73.3" lengthAdjust="spacingAndGlyphs">@atshfaw</text><text x="953.3" y="713.0" font-family="Liberation Sans" font-size="12" fill="#131722" textLength="35.02" lengthAdjust="spacingAndGlyphs">0.0000</text><text x="953.3" y="671.0" font-family="Liberation Sans" font-size="12" fill="#131722" textLength="28.65" lengthAdjust="spacingAndGlyphs">40.00</text><text x="953.3" y="630.0" font-family="Liberation Sans" font-size="12" fill="#131722" textLength="28.65" lengthAdjust="spacingAndGlyphs">80.00</text><text x="953.3" y="588.0" font-family="Liberation Sans" font-size="12" fill="#131722" textLength="35.02" lengthAdjust="spacingAndGlyphs">120.00</text><text x="953.3" y="547.0" font-family="Liberation Sans" font-size="12" fill="#131722" textLength="35.02" lengthAdjust="spacingAndGlyphs">160.00</text><text x="953.3" y="505.0" font-family="Liberation Sans" font-size="12" fill="#131722" textLength="35.02" lengthAdjust="spacingAndGlyphs">200.00</text><text x="953.3" y="463.0" font-family="Liberation Sans" font-size="12" fill="#131722" textLength="35.02" lengthAdjust="spacingAndGlyphs">240.00</text><text x="953.3" y="422.0" font-family="Liberation Sans" font-size="12" fill="#131722" textLength="35.02" lengthAdjust="spacingAndGlyphs">280.00</text><text x="953.3" y="380.0" font-family="Liberation Sans" font-size="12" fill="#131722" textLength="35.02" lengthAdjust="spacingAndGlyphs">320.00</text><text x="953.3" y="338.0" font-family="Liberation Sans" font-size="12" fill="#131722" textLength="35.02" lengthAdjust="spacingAndGlyphs">360.00</text><text x="953.3" y="297.0" font-family="Liberation Sans" font-size="12" fill="#131722" textLength="35.02" lengthAdjust="spacingAndGlyphs">400.00</text><text x="953.3" y="255.0" font-family="Liberation Sans" font-size="12" fill="#131722" textLength="35.02" lengthAdjust="spacingAndGlyphs">440.00</text><text x="953.3" y="214.0" font-family="Liberation Sans" font-size="12" fill="#131722" textLength="35.02" lengthAdjust="spacingAndGlyphs">480.00</text><text x="953.3" y="172.0" font-family="Liberation Sans" font-size="12" fill="#131722" textLength="35.02" lengthAdjust="spacingAndGlyphs">520.00</text><text x="953.3" y="130.0" font-family="Liberation Sans" font-size="12" fill="#131722" textLength="35.02" lengthAdjust="spacingAndGlyphs">560.00</text><text x="953.3" y="89.0" font-family="Liberation Sans" font-size="12" fill="#131722" textLength="35.02" lengthAdjust="spacingAndGlyphs">600.00</text><text x="953.3" y="47.0" font-family="Liberation Sans" font-size="12" fill="#131722" textLength="35.02" lengthAdjust="spacingAndGlyphs">640.00</text><text x="953.3" y="5.0" font-family="Liberation Sans" font-size="12" fill="#131722" textLength="35.02" lengthAdjust="spacingAndGlyphs">680.00</text><rect x="945" y="303" width="49" height="17" rx="1.5" fill="#dd2e3d"/><text x="988.5" y="315.6" text-anchor="end" font-family="Liberation Sans" font-size="12" font-weight="bold" fill="#fff" textLength="35" lengthAdjust="spacingAndGlyphs">381.87</text><text x="50.3" y="744" text-anchor="middle" font-family="Liberation Sans" font-size="12" font-weight="bold" fill="#131722">2023</text><text x="161.5" y="744" text-anchor="middle" font-family="Liberation Sans" font-size="12" font-weight="normal" fill="#131722">Jul</text><text x="275" y="744" text-anchor="middle" font-family="Liberation Sans" font-size="12" font-weight="bold" fill="#131722">2024</text><text x="386" y="744" text-anchor="middle" font-family="Liberation Sans" font-size="12" font-weight="normal" fill="#131722">Jul</text><text x="501" y="744" text-anchor="middle" font-family="Liberation Sans" font-size="12" font-weight="bold" fill="#131722">2025</text><text x="611" y="744" text-anchor="middle" font-family="Liberation Sans" font-size="12" font-weight="normal" fill="#131722">Jul</text><text x="725.3" y="744" text-anchor="middle" font-family="Liberation Sans" font-size="12" font-weight="bold" fill="#131722">2026</text><text x="835.5" y="744" text-anchor="middle" font-family="Liberation Sans" font-size="12" font-weight="normal" fill="#131722">Jul</text><rect x="0" y="754" width="998" height="1" fill="#e3e4e7"/><polygon points="978.50,740.40 974.95,746.55 967.85,746.55 964.30,740.40 967.85,734.25 974.95,734.25" fill="none" stroke="#131722" stroke-width="1.05" stroke-linejoin="round"/><circle cx="971.4" cy="740.4" r="1.9" fill="none" stroke="#131722" stroke-width="1.05"/></svg>
</body></html>
